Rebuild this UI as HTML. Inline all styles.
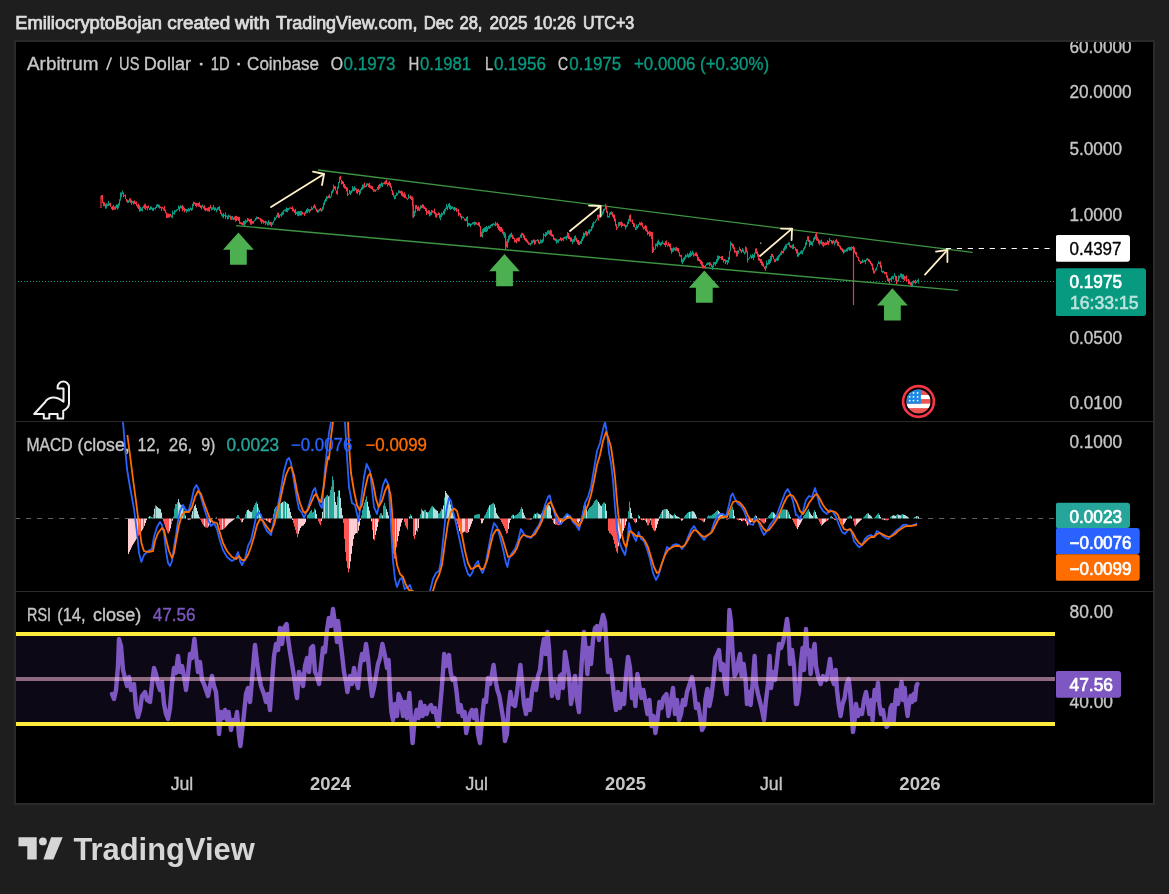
<!DOCTYPE html>
<html><head><meta charset="utf-8"><title>ARBUSD chart</title>
<style>
html,body{margin:0;padding:0;background:#1e1e1e;}
body{width:1169px;height:894px;overflow:hidden;font-family:"Liberation Sans",sans-serif;}
svg{display:block;position:absolute;left:0;top:0;will-change:transform}
text{font-family:"Liberation Sans",sans-serif}
</style></head><body>
<svg width="1169" height="894" viewBox="0 0 1169 894">
<defs>
<clipPath id="cpPrice"><rect x="16" y="42" width="1040" height="379"/></clipPath>
<clipPath id="cpMacd"><rect x="16" y="422" width="1040" height="169"/></clipPath>
<clipPath id="cpRsi"><rect x="16" y="592" width="1040" height="170"/></clipPath>
<clipPath id="cpChart"><rect x="16" y="42" width="1137" height="761"/></clipPath>
<clipPath id="cpFlag"><circle cx="918.5" cy="401.5" r="12"/></clipPath>
</defs>
<rect x="0" y="0" width="1169" height="894" fill="#1e1e1e"/>

<text x="15.2" y="28.8" font-size="17.5" fill="#dcdcdc" stroke="#dcdcdc" stroke-width="0.75" textLength="146.8" lengthAdjust="spacingAndGlyphs">EmiliocryptoBojan</text>
<text x="167.2" y="28.8" font-size="17.5" fill="#dcdcdc" stroke="#dcdcdc" stroke-width="0.75" textLength="63.2" lengthAdjust="spacingAndGlyphs">created</text>
<text x="235.0" y="28.8" font-size="17.5" fill="#dcdcdc" stroke="#dcdcdc" stroke-width="0.75" textLength="34.8" lengthAdjust="spacingAndGlyphs">with</text>
<text x="276.0" y="28.8" font-size="17.5" fill="#dcdcdc" stroke="#dcdcdc" stroke-width="0.75" textLength="141.4" lengthAdjust="spacingAndGlyphs">TradingView.com,</text>
<text x="423.7" y="28.8" font-size="17.5" fill="#dcdcdc" stroke="#dcdcdc" stroke-width="0.75" textLength="29.8" lengthAdjust="spacingAndGlyphs">Dec</text>
<text x="459.4" y="28.8" font-size="17.5" fill="#dcdcdc" stroke="#dcdcdc" stroke-width="0.75" textLength="23.1" lengthAdjust="spacingAndGlyphs">28,</text>
<text x="489.4" y="28.8" font-size="17.5" fill="#dcdcdc" stroke="#dcdcdc" stroke-width="0.75" textLength="38.1" lengthAdjust="spacingAndGlyphs">2025</text>
<text x="533.5" y="28.8" font-size="17.5" fill="#dcdcdc" stroke="#dcdcdc" stroke-width="0.75" textLength="42.4" lengthAdjust="spacingAndGlyphs">10:26</text>
<text x="582.9" y="28.8" font-size="17.5" fill="#dcdcdc" stroke="#dcdcdc" stroke-width="0.75" textLength="51.4" lengthAdjust="spacingAndGlyphs">UTC+3</text>
<rect x="14" y="40" width="1141" height="765" fill="#2a2a2a"/>
<rect x="16" y="42" width="1137" height="761" fill="#000"/>
<rect x="16" y="421" width="1137" height="1" fill="#2a2a2a"/>
<rect x="16" y="591" width="1137" height="1" fill="#2a2a2a"/>
<g clip-path="url(#cpPrice)">
<line x1="15" x2="1055" y1="281.5" y2="281.5" stroke="#089981" stroke-width="1" stroke-dasharray="1 2"/>
<line x1="318" y1="170" x2="972.6" y2="252.4" stroke="#3d9442" stroke-width="1.4"/>
<line x1="236" y1="225.6" x2="958" y2="290.4" stroke="#3d9442" stroke-width="1.4"/>
<g stroke-width="1" shape-rendering="auto"><line x1="101.5" x2="101.5" y1="195.0" y2="199.1" stroke="#089981"/><line x1="102.5" x2="102.5" y1="195.0" y2="203.2" stroke="#f23645"/><line x1="103.5" x2="103.5" y1="201.7" y2="206.3" stroke="#f23645"/><line x1="104.5" x2="104.5" y1="202.4" y2="206.1" stroke="#f23645"/><line x1="105.5" x2="105.5" y1="203.8" y2="208.6" stroke="#f23645"/><line x1="106.5" x2="106.5" y1="203.4" y2="208.6" stroke="#089981"/><line x1="107.5" x2="107.5" y1="203.6" y2="206.3" stroke="#089981"/><line x1="108.5" x2="108.5" y1="200.9" y2="206.0" stroke="#089981"/><line x1="109.5" x2="109.5" y1="203.3" y2="205.7" stroke="#f23645"/><line x1="110.5" x2="110.5" y1="202.8" y2="206.9" stroke="#f23645"/><line x1="111.5" x2="111.5" y1="206.9" y2="209.1" stroke="#f23645"/><line x1="112.5" x2="112.5" y1="206.1" y2="210.3" stroke="#f23645"/><line x1="113.5" x2="113.5" y1="204.9" y2="210.0" stroke="#089981"/><line x1="114.5" x2="114.5" y1="206.8" y2="209.5" stroke="#f23645"/><line x1="115.5" x2="115.5" y1="205.6" y2="209.8" stroke="#089981"/><line x1="116.5" x2="116.5" y1="204.5" y2="208.2" stroke="#089981"/><line x1="117.5" x2="117.5" y1="204.5" y2="209.6" stroke="#f23645"/><line x1="118.5" x2="118.5" y1="203.3" y2="208.4" stroke="#089981"/><line x1="119.5" x2="119.5" y1="199.2" y2="205.7" stroke="#089981"/><line x1="120.5" x2="120.5" y1="192.4" y2="200.7" stroke="#089981"/><line x1="121.5" x2="121.5" y1="192.4" y2="197.2" stroke="#089981"/><line x1="122.5" x2="122.5" y1="190.5" y2="194.1" stroke="#089981"/><line x1="123.5" x2="123.5" y1="192.4" y2="197.2" stroke="#f23645"/><line x1="124.5" x2="124.5" y1="194.8" y2="196.2" stroke="#f23645"/><line x1="125.5" x2="125.5" y1="194.7" y2="199.0" stroke="#f23645"/><line x1="126.5" x2="126.5" y1="199.0" y2="201.7" stroke="#f23645"/><line x1="127.5" x2="127.5" y1="199.7" y2="202.9" stroke="#f23645"/><line x1="128.5" x2="128.5" y1="200.3" y2="203.0" stroke="#089981"/><line x1="129.5" x2="129.5" y1="198.3" y2="201.9" stroke="#089981"/><line x1="130.5" x2="130.5" y1="198.3" y2="202.9" stroke="#f23645"/><line x1="131.5" x2="131.5" y1="200.1" y2="204.7" stroke="#f23645"/><line x1="132.5" x2="132.5" y1="200.9" y2="203.1" stroke="#089981"/><line x1="133.5" x2="133.5" y1="200.9" y2="204.5" stroke="#089981"/><line x1="134.5" x2="134.5" y1="200.4" y2="204.1" stroke="#f23645"/><line x1="135.5" x2="135.5" y1="201.5" y2="204.2" stroke="#089981"/><line x1="136.5" x2="136.5" y1="201.5" y2="206.1" stroke="#f23645"/><line x1="137.5" x2="137.5" y1="204.6" y2="207.8" stroke="#f23645"/><line x1="138.5" x2="138.5" y1="203.6" y2="209.2" stroke="#f23645"/><line x1="139.5" x2="139.5" y1="205.3" y2="211.7" stroke="#f23645"/><line x1="140.5" x2="140.5" y1="206.7" y2="211.3" stroke="#089981"/><line x1="141.5" x2="141.5" y1="208.3" y2="211.0" stroke="#089981"/><line x1="142.5" x2="142.5" y1="206.9" y2="211.5" stroke="#089981"/><line x1="143.5" x2="143.5" y1="205.6" y2="207.9" stroke="#089981"/><line x1="144.5" x2="144.5" y1="204.2" y2="208.8" stroke="#f23645"/><line x1="145.5" x2="145.5" y1="203.5" y2="210.0" stroke="#089981"/><line x1="146.5" x2="146.5" y1="205.9" y2="208.3" stroke="#f23645"/><line x1="147.5" x2="147.5" y1="205.9" y2="210.5" stroke="#089981"/><line x1="148.5" x2="148.5" y1="205.4" y2="208.1" stroke="#f23645"/><line x1="149.5" x2="149.5" y1="207.9" y2="210.1" stroke="#f23645"/><line x1="150.5" x2="150.5" y1="206.2" y2="209.9" stroke="#089981"/><line x1="151.5" x2="151.5" y1="206.7" y2="209.4" stroke="#f23645"/><line x1="152.5" x2="152.5" y1="207.7" y2="210.9" stroke="#089981"/><line x1="153.5" x2="153.5" y1="207.7" y2="210.9" stroke="#f23645"/><line x1="154.5" x2="154.5" y1="207.9" y2="209.1" stroke="#089981"/><line x1="155.5" x2="155.5" y1="207.0" y2="209.7" stroke="#089981"/><line x1="156.5" x2="156.5" y1="204.6" y2="208.0" stroke="#089981"/><line x1="157.5" x2="157.5" y1="204.1" y2="206.8" stroke="#089981"/><line x1="158.5" x2="158.5" y1="204.4" y2="207.6" stroke="#089981"/><line x1="159.5" x2="159.5" y1="204.9" y2="208.5" stroke="#f23645"/><line x1="160.5" x2="160.5" y1="206.5" y2="208.2" stroke="#f23645"/><line x1="161.5" x2="161.5" y1="206.9" y2="211.0" stroke="#089981"/><line x1="162.5" x2="162.5" y1="206.9" y2="208.6" stroke="#f23645"/><line x1="163.5" x2="163.5" y1="207.7" y2="210.4" stroke="#089981"/><line x1="164.5" x2="164.5" y1="205.8" y2="211.2" stroke="#f23645"/><line x1="165.5" x2="165.5" y1="209.7" y2="213.3" stroke="#f23645"/><line x1="166.5" x2="166.5" y1="212.3" y2="218.1" stroke="#f23645"/><line x1="167.5" x2="167.5" y1="213.4" y2="218.1" stroke="#089981"/><line x1="168.5" x2="168.5" y1="213.4" y2="217.6" stroke="#f23645"/><line x1="169.5" x2="169.5" y1="213.9" y2="217.6" stroke="#089981"/><line x1="170.5" x2="170.5" y1="213.9" y2="216.6" stroke="#f23645"/><line x1="171.5" x2="171.5" y1="215.3" y2="217.5" stroke="#f23645"/><line x1="172.5" x2="172.5" y1="210.5" y2="218.3" stroke="#089981"/><line x1="173.5" x2="173.5" y1="212.4" y2="214.1" stroke="#089981"/><line x1="174.5" x2="174.5" y1="210.1" y2="214.7" stroke="#089981"/><line x1="175.5" x2="175.5" y1="210.3" y2="212.5" stroke="#089981"/><line x1="176.5" x2="176.5" y1="209.3" y2="211.5" stroke="#089981"/><line x1="177.5" x2="177.5" y1="208.9" y2="210.3" stroke="#089981"/><line x1="178.5" x2="178.5" y1="205.5" y2="209.6" stroke="#089981"/><line x1="179.5" x2="179.5" y1="206.4" y2="211.5" stroke="#f23645"/><line x1="180.5" x2="180.5" y1="205.3" y2="208.3" stroke="#089981"/><line x1="181.5" x2="181.5" y1="205.8" y2="208.5" stroke="#f23645"/><line x1="182.5" x2="182.5" y1="205.1" y2="211.4" stroke="#f23645"/><line x1="183.5" x2="183.5" y1="206.4" y2="210.0" stroke="#089981"/><line x1="184.5" x2="184.5" y1="207.8" y2="212.4" stroke="#f23645"/><line x1="185.5" x2="185.5" y1="208.9" y2="211.1" stroke="#f23645"/><line x1="186.5" x2="186.5" y1="209.1" y2="212.7" stroke="#089981"/><line x1="187.5" x2="187.5" y1="209.1" y2="211.4" stroke="#f23645"/><line x1="188.5" x2="188.5" y1="207.9" y2="211.4" stroke="#089981"/><line x1="189.5" x2="189.5" y1="208.9" y2="211.6" stroke="#f23645"/><line x1="190.5" x2="190.5" y1="207.3" y2="210.0" stroke="#089981"/><line x1="191.5" x2="191.5" y1="208.1" y2="210.8" stroke="#089981"/><line x1="192.5" x2="192.5" y1="203.7" y2="210.1" stroke="#089981"/><line x1="193.5" x2="193.5" y1="201.6" y2="206.1" stroke="#089981"/><line x1="194.5" x2="194.5" y1="202.1" y2="204.5" stroke="#f23645"/><line x1="195.5" x2="195.5" y1="203.0" y2="206.0" stroke="#089981"/><line x1="196.5" x2="196.5" y1="203.0" y2="207.3" stroke="#f23645"/><line x1="197.5" x2="197.5" y1="203.0" y2="205.7" stroke="#089981"/><line x1="198.5" x2="198.5" y1="203.0" y2="206.7" stroke="#f23645"/><line x1="199.5" x2="199.5" y1="201.9" y2="206.8" stroke="#f23645"/><line x1="200.5" x2="200.5" y1="205.3" y2="208.0" stroke="#f23645"/><line x1="201.5" x2="201.5" y1="205.4" y2="209.5" stroke="#f23645"/><line x1="202.5" x2="202.5" y1="204.6" y2="207.3" stroke="#089981"/><line x1="203.5" x2="203.5" y1="206.1" y2="208.6" stroke="#f23645"/><line x1="204.5" x2="204.5" y1="205.2" y2="210.3" stroke="#f23645"/><line x1="205.5" x2="205.5" y1="207.6" y2="211.2" stroke="#f23645"/><line x1="206.5" x2="206.5" y1="208.2" y2="210.4" stroke="#f23645"/><line x1="207.5" x2="207.5" y1="207.7" y2="211.4" stroke="#089981"/><line x1="208.5" x2="208.5" y1="207.2" y2="211.4" stroke="#f23645"/><line x1="209.5" x2="209.5" y1="206.7" y2="211.7" stroke="#089981"/><line x1="210.5" x2="210.5" y1="204.8" y2="208.4" stroke="#f23645"/><line x1="211.5" x2="211.5" y1="207.2" y2="210.4" stroke="#f23645"/><line x1="212.5" x2="212.5" y1="207.3" y2="209.8" stroke="#089981"/><line x1="213.5" x2="213.5" y1="204.9" y2="209.5" stroke="#f23645"/><line x1="214.5" x2="214.5" y1="207.4" y2="211.0" stroke="#089981"/><line x1="215.5" x2="215.5" y1="207.4" y2="210.0" stroke="#f23645"/><line x1="216.5" x2="216.5" y1="208.7" y2="212.3" stroke="#089981"/><line x1="217.5" x2="217.5" y1="207.2" y2="210.4" stroke="#f23645"/><line x1="218.5" x2="218.5" y1="206.9" y2="209.6" stroke="#089981"/><line x1="219.5" x2="219.5" y1="206.0" y2="211.1" stroke="#f23645"/><line x1="220.5" x2="220.5" y1="209.6" y2="213.9" stroke="#f23645"/><line x1="221.5" x2="221.5" y1="212.4" y2="215.7" stroke="#f23645"/><line x1="222.5" x2="222.5" y1="214.1" y2="217.2" stroke="#089981"/><line x1="223.5" x2="223.5" y1="213.1" y2="218.3" stroke="#f23645"/><line x1="224.5" x2="224.5" y1="214.9" y2="216.1" stroke="#089981"/><line x1="225.5" x2="225.5" y1="212.5" y2="218.9" stroke="#f23645"/><line x1="226.5" x2="226.5" y1="215.3" y2="217.0" stroke="#089981"/><line x1="227.5" x2="227.5" y1="215.8" y2="219.4" stroke="#f23645"/><line x1="228.5" x2="228.5" y1="214.4" y2="219.0" stroke="#089981"/><line x1="229.5" x2="229.5" y1="215.4" y2="217.1" stroke="#f23645"/><line x1="230.5" x2="230.5" y1="215.5" y2="219.7" stroke="#f23645"/><line x1="231.5" x2="231.5" y1="216.2" y2="219.9" stroke="#089981"/><line x1="232.5" x2="232.5" y1="215.9" y2="219.6" stroke="#089981"/><line x1="233.5" x2="233.5" y1="217.4" y2="220.1" stroke="#f23645"/><line x1="234.5" x2="234.5" y1="216.6" y2="219.8" stroke="#f23645"/><line x1="235.5" x2="235.5" y1="215.8" y2="221.8" stroke="#f23645"/><line x1="236.5" x2="236.5" y1="215.9" y2="221.0" stroke="#f23645"/><line x1="237.5" x2="237.5" y1="216.7" y2="219.9" stroke="#089981"/><line x1="238.5" x2="238.5" y1="216.7" y2="221.0" stroke="#f23645"/><line x1="239.5" x2="239.5" y1="217.1" y2="223.9" stroke="#f23645"/><line x1="240.5" x2="240.5" y1="221.9" y2="224.1" stroke="#f23645"/><line x1="241.5" x2="241.5" y1="222.4" y2="224.6" stroke="#f23645"/><line x1="242.5" x2="242.5" y1="222.5" y2="225.2" stroke="#f23645"/><line x1="243.5" x2="243.5" y1="221.0" y2="225.6" stroke="#089981"/><line x1="244.5" x2="244.5" y1="220.9" y2="226.0" stroke="#089981"/><line x1="245.5" x2="245.5" y1="219.7" y2="224.3" stroke="#089981"/><line x1="246.5" x2="246.5" y1="220.5" y2="222.7" stroke="#089981"/><line x1="247.5" x2="247.5" y1="218.0" y2="222.0" stroke="#089981"/><line x1="248.5" x2="248.5" y1="218.5" y2="221.2" stroke="#f23645"/><line x1="249.5" x2="249.5" y1="219.2" y2="222.4" stroke="#f23645"/><line x1="250.5" x2="250.5" y1="218.9" y2="224.7" stroke="#f23645"/><line x1="251.5" x2="251.5" y1="218.6" y2="224.7" stroke="#089981"/><line x1="252.5" x2="252.5" y1="221.0" y2="223.7" stroke="#f23645"/><line x1="253.5" x2="253.5" y1="221.0" y2="223.7" stroke="#f23645"/><line x1="254.5" x2="254.5" y1="219.7" y2="221.4" stroke="#089981"/><line x1="255.5" x2="255.5" y1="218.0" y2="220.7" stroke="#089981"/><line x1="256.5" x2="256.5" y1="216.5" y2="219.5" stroke="#089981"/><line x1="257.5" x2="257.5" y1="217.0" y2="219.2" stroke="#089981"/><line x1="258.5" x2="258.5" y1="217.0" y2="219.2" stroke="#f23645"/><line x1="259.5" x2="259.5" y1="218.1" y2="219.3" stroke="#f23645"/><line x1="260.5" x2="260.5" y1="218.2" y2="221.4" stroke="#f23645"/><line x1="261.5" x2="261.5" y1="218.7" y2="223.8" stroke="#f23645"/><line x1="262.5" x2="262.5" y1="219.4" y2="222.3" stroke="#f23645"/><line x1="263.5" x2="263.5" y1="220.2" y2="223.9" stroke="#089981"/><line x1="264.5" x2="264.5" y1="221.2" y2="222.9" stroke="#f23645"/><line x1="265.5" x2="265.5" y1="220.8" y2="225.0" stroke="#f23645"/><line x1="266.5" x2="266.5" y1="221.3" y2="223.5" stroke="#089981"/><line x1="267.5" x2="267.5" y1="222.3" y2="225.7" stroke="#f23645"/><line x1="268.5" x2="268.5" y1="220.2" y2="225.2" stroke="#089981"/><line x1="269.5" x2="269.5" y1="221.6" y2="224.8" stroke="#f23645"/><line x1="270.5" x2="270.5" y1="221.8" y2="225.4" stroke="#f23645"/><line x1="271.5" x2="271.5" y1="222.1" y2="226.8" stroke="#089981"/><line x1="272.5" x2="272.5" y1="222.4" y2="225.1" stroke="#089981"/><line x1="273.5" x2="273.5" y1="220.7" y2="223.4" stroke="#089981"/><line x1="274.5" x2="274.5" y1="217.0" y2="221.2" stroke="#089981"/><line x1="275.5" x2="275.5" y1="217.8" y2="220.0" stroke="#089981"/><line x1="276.5" x2="276.5" y1="215.2" y2="218.3" stroke="#089981"/><line x1="277.5" x2="277.5" y1="212.7" y2="217.2" stroke="#089981"/><line x1="278.5" x2="278.5" y1="212.7" y2="217.9" stroke="#f23645"/><line x1="279.5" x2="279.5" y1="214.6" y2="217.9" stroke="#089981"/><line x1="280.5" x2="280.5" y1="214.0" y2="215.7" stroke="#089981"/><line x1="281.5" x2="281.5" y1="212.6" y2="216.9" stroke="#089981"/><line x1="282.5" x2="282.5" y1="211.6" y2="215.3" stroke="#089981"/><line x1="283.5" x2="283.5" y1="210.1" y2="214.6" stroke="#089981"/><line x1="284.5" x2="284.5" y1="209.5" y2="211.2" stroke="#089981"/><line x1="285.5" x2="285.5" y1="209.0" y2="211.7" stroke="#089981"/><line x1="286.5" x2="286.5" y1="207.4" y2="212.0" stroke="#089981"/><line x1="287.5" x2="287.5" y1="208.0" y2="212.2" stroke="#089981"/><line x1="288.5" x2="288.5" y1="208.1" y2="210.5" stroke="#089981"/><line x1="289.5" x2="289.5" y1="207.4" y2="209.1" stroke="#089981"/><line x1="290.5" x2="290.5" y1="207.4" y2="208.6" stroke="#f23645"/><line x1="291.5" x2="291.5" y1="207.5" y2="209.3" stroke="#f23645"/><line x1="292.5" x2="292.5" y1="206.4" y2="211.5" stroke="#f23645"/><line x1="293.5" x2="293.5" y1="208.3" y2="211.5" stroke="#f23645"/><line x1="294.5" x2="294.5" y1="209.9" y2="213.1" stroke="#f23645"/><line x1="295.5" x2="295.5" y1="208.8" y2="215.1" stroke="#f23645"/><line x1="296.5" x2="296.5" y1="211.8" y2="214.0" stroke="#089981"/><line x1="297.5" x2="297.5" y1="211.3" y2="215.8" stroke="#f23645"/><line x1="298.5" x2="298.5" y1="211.2" y2="216.3" stroke="#089981"/><line x1="299.5" x2="299.5" y1="211.2" y2="215.5" stroke="#f23645"/><line x1="300.5" x2="300.5" y1="211.0" y2="215.6" stroke="#089981"/><line x1="301.5" x2="301.5" y1="210.9" y2="215.5" stroke="#089981"/><line x1="302.5" x2="302.5" y1="211.8" y2="214.5" stroke="#f23645"/><line x1="303.5" x2="303.5" y1="213.2" y2="214.4" stroke="#089981"/><line x1="304.5" x2="304.5" y1="212.7" y2="215.9" stroke="#f23645"/><line x1="305.5" x2="305.5" y1="210.8" y2="214.1" stroke="#089981"/><line x1="306.5" x2="306.5" y1="209.2" y2="213.3" stroke="#089981"/><line x1="307.5" x2="307.5" y1="208.1" y2="213.2" stroke="#089981"/><line x1="308.5" x2="308.5" y1="208.9" y2="211.6" stroke="#089981"/><line x1="309.5" x2="309.5" y1="209.2" y2="212.8" stroke="#089981"/><line x1="310.5" x2="310.5" y1="209.2" y2="211.4" stroke="#f23645"/><line x1="311.5" x2="311.5" y1="206.4" y2="210.2" stroke="#089981"/><line x1="312.5" x2="312.5" y1="207.7" y2="209.9" stroke="#089981"/><line x1="313.5" x2="313.5" y1="205.6" y2="208.3" stroke="#089981"/><line x1="314.5" x2="314.5" y1="204.2" y2="207.8" stroke="#f23645"/><line x1="315.5" x2="315.5" y1="205.8" y2="209.5" stroke="#f23645"/><line x1="316.5" x2="316.5" y1="208.5" y2="211.7" stroke="#f23645"/><line x1="317.5" x2="317.5" y1="209.7" y2="212.9" stroke="#f23645"/><line x1="318.5" x2="318.5" y1="209.7" y2="212.4" stroke="#089981"/><line x1="319.5" x2="319.5" y1="208.9" y2="211.1" stroke="#089981"/><line x1="320.5" x2="320.5" y1="207.9" y2="210.6" stroke="#f23645"/><line x1="321.5" x2="321.5" y1="208.7" y2="211.9" stroke="#f23645"/><line x1="322.5" x2="322.5" y1="206.7" y2="210.7" stroke="#089981"/><line x1="323.5" x2="323.5" y1="202.6" y2="209.2" stroke="#089981"/><line x1="324.5" x2="324.5" y1="200.3" y2="205.1" stroke="#089981"/><line x1="325.5" x2="325.5" y1="198.4" y2="202.1" stroke="#089981"/><line x1="326.5" x2="326.5" y1="196.0" y2="201.1" stroke="#089981"/><line x1="327.5" x2="327.5" y1="196.4" y2="198.9" stroke="#089981"/><line x1="328.5" x2="328.5" y1="195.4" y2="198.1" stroke="#f23645"/><line x1="329.5" x2="329.5" y1="194.1" y2="198.3" stroke="#f23645"/><line x1="330.5" x2="330.5" y1="196.3" y2="198.3" stroke="#089981"/><line x1="331.5" x2="331.5" y1="191.1" y2="196.8" stroke="#089981"/><line x1="332.5" x2="332.5" y1="189.5" y2="193.5" stroke="#089981"/><line x1="333.5" x2="333.5" y1="184.7" y2="191.5" stroke="#089981"/><line x1="334.5" x2="334.5" y1="186.2" y2="189.1" stroke="#f23645"/><line x1="335.5" x2="335.5" y1="186.1" y2="190.6" stroke="#f23645"/><line x1="336.5" x2="336.5" y1="190.6" y2="193.9" stroke="#f23645"/><line x1="337.5" x2="337.5" y1="186.6" y2="194.9" stroke="#089981"/><line x1="338.5" x2="338.5" y1="182.1" y2="188.6" stroke="#089981"/><line x1="339.5" x2="339.5" y1="176.6" y2="183.1" stroke="#089981"/><line x1="340.5" x2="340.5" y1="175.7" y2="179.9" stroke="#f23645"/><line x1="341.5" x2="341.5" y1="179.9" y2="184.4" stroke="#f23645"/><line x1="342.5" x2="342.5" y1="181.0" y2="184.2" stroke="#f23645"/><line x1="343.5" x2="343.5" y1="181.5" y2="187.4" stroke="#f23645"/><line x1="344.5" x2="344.5" y1="184.0" y2="188.6" stroke="#f23645"/><line x1="345.5" x2="345.5" y1="185.6" y2="188.8" stroke="#f23645"/><line x1="346.5" x2="346.5" y1="187.0" y2="191.4" stroke="#f23645"/><line x1="347.5" x2="347.5" y1="187.5" y2="196.1" stroke="#f23645"/><line x1="348.5" x2="348.5" y1="193.7" y2="194.9" stroke="#f23645"/><line x1="349.5" x2="349.5" y1="189.8" y2="193.9" stroke="#089981"/><line x1="350.5" x2="350.5" y1="191.0" y2="195.1" stroke="#089981"/><line x1="351.5" x2="351.5" y1="190.1" y2="193.3" stroke="#089981"/><line x1="352.5" x2="352.5" y1="186.1" y2="191.6" stroke="#089981"/><line x1="353.5" x2="353.5" y1="187.6" y2="191.0" stroke="#f23645"/><line x1="354.5" x2="354.5" y1="186.2" y2="191.3" stroke="#089981"/><line x1="355.5" x2="355.5" y1="187.6" y2="190.3" stroke="#f23645"/><line x1="356.5" x2="356.5" y1="188.6" y2="193.2" stroke="#f23645"/><line x1="357.5" x2="357.5" y1="189.4" y2="194.0" stroke="#089981"/><line x1="358.5" x2="358.5" y1="188.9" y2="192.2" stroke="#f23645"/><line x1="359.5" x2="359.5" y1="190.2" y2="195.3" stroke="#f23645"/><line x1="360.5" x2="360.5" y1="189.2" y2="193.7" stroke="#089981"/><line x1="361.5" x2="361.5" y1="187.2" y2="190.4" stroke="#089981"/><line x1="362.5" x2="362.5" y1="184.4" y2="189.7" stroke="#089981"/><line x1="363.5" x2="363.5" y1="184.5" y2="188.6" stroke="#089981"/><line x1="364.5" x2="364.5" y1="182.6" y2="187.7" stroke="#f23645"/><line x1="365.5" x2="365.5" y1="185.5" y2="187.2" stroke="#f23645"/><line x1="366.5" x2="366.5" y1="183.3" y2="187.0" stroke="#089981"/><line x1="367.5" x2="367.5" y1="183.3" y2="185.5" stroke="#f23645"/><line x1="368.5" x2="368.5" y1="183.6" y2="187.2" stroke="#f23645"/><line x1="369.5" x2="369.5" y1="182.9" y2="187.8" stroke="#f23645"/><line x1="370.5" x2="370.5" y1="185.3" y2="188.5" stroke="#f23645"/><line x1="371.5" x2="371.5" y1="185.7" y2="188.9" stroke="#089981"/><line x1="372.5" x2="372.5" y1="186.2" y2="190.1" stroke="#f23645"/><line x1="373.5" x2="373.5" y1="189.1" y2="191.8" stroke="#f23645"/><line x1="374.5" x2="374.5" y1="189.4" y2="191.6" stroke="#f23645"/><line x1="375.5" x2="375.5" y1="189.6" y2="191.8" stroke="#f23645"/><line x1="376.5" x2="376.5" y1="189.2" y2="190.4" stroke="#089981"/><line x1="377.5" x2="377.5" y1="186.9" y2="189.7" stroke="#089981"/><line x1="378.5" x2="378.5" y1="185.0" y2="190.1" stroke="#f23645"/><line x1="379.5" x2="379.5" y1="183.9" y2="188.8" stroke="#089981"/><line x1="380.5" x2="380.5" y1="183.7" y2="187.8" stroke="#089981"/><line x1="381.5" x2="381.5" y1="182.3" y2="186.1" stroke="#089981"/><line x1="382.5" x2="382.5" y1="183.0" y2="187.1" stroke="#089981"/><line x1="383.5" x2="383.5" y1="182.6" y2="184.3" stroke="#089981"/><line x1="384.5" x2="384.5" y1="181.6" y2="184.3" stroke="#f23645"/><line x1="385.5" x2="385.5" y1="180.6" y2="184.8" stroke="#089981"/><line x1="386.5" x2="386.5" y1="179.7" y2="184.0" stroke="#f23645"/><line x1="387.5" x2="387.5" y1="182.8" y2="186.5" stroke="#089981"/><line x1="388.5" x2="388.5" y1="182.3" y2="185.0" stroke="#f23645"/><line x1="389.5" x2="389.5" y1="181.1" y2="186.2" stroke="#089981"/><line x1="390.5" x2="390.5" y1="183.0" y2="187.7" stroke="#f23645"/><line x1="391.5" x2="391.5" y1="186.2" y2="191.1" stroke="#f23645"/><line x1="392.5" x2="392.5" y1="190.1" y2="195.0" stroke="#f23645"/><line x1="393.5" x2="393.5" y1="192.5" y2="196.7" stroke="#f23645"/><line x1="394.5" x2="394.5" y1="195.6" y2="199.3" stroke="#089981"/><line x1="395.5" x2="395.5" y1="195.0" y2="199.0" stroke="#089981"/><line x1="396.5" x2="396.5" y1="192.5" y2="196.0" stroke="#089981"/><line x1="397.5" x2="397.5" y1="193.0" y2="195.2" stroke="#f23645"/><line x1="398.5" x2="398.5" y1="190.3" y2="193.4" stroke="#089981"/><line x1="399.5" x2="399.5" y1="190.5" y2="193.2" stroke="#089981"/><line x1="400.5" x2="400.5" y1="191.0" y2="193.5" stroke="#f23645"/><line x1="401.5" x2="401.5" y1="190.6" y2="195.7" stroke="#f23645"/><line x1="402.5" x2="402.5" y1="191.4" y2="196.5" stroke="#f23645"/><line x1="403.5" x2="403.5" y1="193.2" y2="197.3" stroke="#089981"/><line x1="404.5" x2="404.5" y1="192.2" y2="198.2" stroke="#f23645"/><line x1="405.5" x2="405.5" y1="194.3" y2="197.9" stroke="#f23645"/><line x1="406.5" x2="406.5" y1="197.3" y2="199.0" stroke="#f23645"/><line x1="407.5" x2="407.5" y1="198.5" y2="200.2" stroke="#f23645"/><line x1="408.5" x2="408.5" y1="194.1" y2="198.9" stroke="#089981"/><line x1="409.5" x2="409.5" y1="196.3" y2="198.0" stroke="#089981"/><line x1="410.5" x2="410.5" y1="195.3" y2="199.0" stroke="#f23645"/><line x1="411.5" x2="411.5" y1="196.4" y2="200.1" stroke="#f23645"/><line x1="412.5" x2="412.5" y1="196.5" y2="206.2" stroke="#f23645"/><line x1="413.5" x2="413.5" y1="204.7" y2="217.6" stroke="#f23645"/><line x1="414.5" x2="414.5" y1="210.9" y2="216.6" stroke="#089981"/><line x1="415.5" x2="415.5" y1="205.0" y2="212.9" stroke="#089981"/><line x1="416.5" x2="416.5" y1="205.0" y2="208.9" stroke="#f23645"/><line x1="417.5" x2="417.5" y1="206.9" y2="211.1" stroke="#f23645"/><line x1="418.5" x2="418.5" y1="206.1" y2="210.6" stroke="#f23645"/><line x1="419.5" x2="419.5" y1="207.4" y2="211.1" stroke="#089981"/><line x1="420.5" x2="420.5" y1="205.3" y2="209.4" stroke="#089981"/><line x1="421.5" x2="421.5" y1="205.3" y2="208.0" stroke="#f23645"/><line x1="422.5" x2="422.5" y1="204.3" y2="207.9" stroke="#f23645"/><line x1="423.5" x2="423.5" y1="204.5" y2="208.6" stroke="#089981"/><line x1="424.5" x2="424.5" y1="206.4" y2="209.1" stroke="#f23645"/><line x1="425.5" x2="425.5" y1="207.6" y2="211.3" stroke="#f23645"/><line x1="426.5" x2="426.5" y1="208.2" y2="215.0" stroke="#f23645"/><line x1="427.5" x2="427.5" y1="211.2" y2="213.4" stroke="#089981"/><line x1="428.5" x2="428.5" y1="210.2" y2="213.9" stroke="#f23645"/><line x1="429.5" x2="429.5" y1="210.5" y2="216.5" stroke="#f23645"/><line x1="430.5" x2="430.5" y1="211.9" y2="215.6" stroke="#089981"/><line x1="431.5" x2="431.5" y1="210.0" y2="214.9" stroke="#089981"/><line x1="432.5" x2="432.5" y1="210.5" y2="212.7" stroke="#f23645"/><line x1="433.5" x2="433.5" y1="211.0" y2="212.7" stroke="#089981"/><line x1="434.5" x2="434.5" y1="208.6" y2="214.1" stroke="#f23645"/><line x1="435.5" x2="435.5" y1="212.1" y2="217.2" stroke="#f23645"/><line x1="436.5" x2="436.5" y1="213.3" y2="217.9" stroke="#f23645"/><line x1="437.5" x2="437.5" y1="213.8" y2="215.5" stroke="#089981"/><line x1="438.5" x2="438.5" y1="212.3" y2="215.0" stroke="#f23645"/><line x1="439.5" x2="439.5" y1="212.8" y2="218.3" stroke="#f23645"/><line x1="440.5" x2="440.5" y1="214.2" y2="220.2" stroke="#089981"/><line x1="441.5" x2="441.5" y1="212.5" y2="217.1" stroke="#089981"/><line x1="442.5" x2="442.5" y1="213.1" y2="215.4" stroke="#089981"/><line x1="443.5" x2="443.5" y1="210.7" y2="214.3" stroke="#f23645"/><line x1="444.5" x2="444.5" y1="209.1" y2="214.6" stroke="#089981"/><line x1="445.5" x2="445.5" y1="207.6" y2="211.6" stroke="#089981"/><line x1="446.5" x2="446.5" y1="204.1" y2="209.1" stroke="#089981"/><line x1="447.5" x2="447.5" y1="206.0" y2="210.1" stroke="#f23645"/><line x1="448.5" x2="448.5" y1="203.8" y2="207.3" stroke="#089981"/><line x1="449.5" x2="449.5" y1="202.9" y2="209.1" stroke="#f23645"/><line x1="450.5" x2="450.5" y1="205.3" y2="209.9" stroke="#089981"/><line x1="451.5" x2="451.5" y1="206.3" y2="209.2" stroke="#f23645"/><line x1="452.5" x2="452.5" y1="206.4" y2="208.6" stroke="#089981"/><line x1="453.5" x2="453.5" y1="207.4" y2="209.9" stroke="#f23645"/><line x1="454.5" x2="454.5" y1="207.0" y2="211.2" stroke="#089981"/><line x1="455.5" x2="455.5" y1="207.5" y2="210.2" stroke="#f23645"/><line x1="456.5" x2="456.5" y1="207.8" y2="211.8" stroke="#f23645"/><line x1="457.5" x2="457.5" y1="209.5" y2="211.2" stroke="#089981"/><line x1="458.5" x2="458.5" y1="209.0" y2="216.2" stroke="#f23645"/><line x1="459.5" x2="459.5" y1="212.8" y2="215.0" stroke="#f23645"/><line x1="460.5" x2="460.5" y1="213.5" y2="217.3" stroke="#f23645"/><line x1="461.5" x2="461.5" y1="215.8" y2="219.6" stroke="#f23645"/><line x1="462.5" x2="462.5" y1="216.4" y2="218.1" stroke="#089981"/><line x1="463.5" x2="463.5" y1="216.9" y2="218.4" stroke="#f23645"/><line x1="464.5" x2="464.5" y1="218.4" y2="220.6" stroke="#f23645"/><line x1="465.5" x2="465.5" y1="218.6" y2="221.3" stroke="#f23645"/><line x1="466.5" x2="466.5" y1="217.0" y2="221.2" stroke="#089981"/><line x1="467.5" x2="467.5" y1="216.1" y2="226.9" stroke="#f23645"/><line x1="468.5" x2="468.5" y1="223.0" y2="226.2" stroke="#089981"/><line x1="469.5" x2="469.5" y1="223.0" y2="225.5" stroke="#f23645"/><line x1="470.5" x2="470.5" y1="223.9" y2="227.1" stroke="#089981"/><line x1="471.5" x2="471.5" y1="223.4" y2="225.1" stroke="#089981"/><line x1="472.5" x2="472.5" y1="222.3" y2="224.5" stroke="#089981"/><line x1="473.5" x2="473.5" y1="222.1" y2="224.3" stroke="#089981"/><line x1="474.5" x2="474.5" y1="221.5" y2="225.6" stroke="#089981"/><line x1="475.5" x2="475.5" y1="222.0" y2="224.7" stroke="#f23645"/><line x1="476.5" x2="476.5" y1="222.4" y2="224.6" stroke="#f23645"/><line x1="477.5" x2="477.5" y1="223.5" y2="225.2" stroke="#f23645"/><line x1="478.5" x2="478.5" y1="222.1" y2="225.8" stroke="#f23645"/><line x1="479.5" x2="479.5" y1="222.4" y2="227.0" stroke="#f23645"/><line x1="480.5" x2="480.5" y1="227.0" y2="234.2" stroke="#f23645"/><line x1="481.5" x2="481.5" y1="231.7" y2="236.6" stroke="#f23645"/><line x1="482.5" x2="482.5" y1="229.1" y2="237.6" stroke="#089981"/><line x1="483.5" x2="483.5" y1="228.1" y2="233.0" stroke="#089981"/><line x1="484.5" x2="484.5" y1="227.4" y2="232.0" stroke="#089981"/><line x1="485.5" x2="485.5" y1="226.9" y2="232.0" stroke="#f23645"/><line x1="486.5" x2="486.5" y1="225.9" y2="231.9" stroke="#089981"/><line x1="487.5" x2="487.5" y1="227.1" y2="231.2" stroke="#089981"/><line x1="488.5" x2="488.5" y1="225.7" y2="228.9" stroke="#089981"/><line x1="489.5" x2="489.5" y1="226.1" y2="228.8" stroke="#089981"/><line x1="490.5" x2="490.5" y1="224.8" y2="228.1" stroke="#089981"/><line x1="491.5" x2="491.5" y1="224.0" y2="226.2" stroke="#089981"/><line x1="492.5" x2="492.5" y1="223.7" y2="226.4" stroke="#089981"/><line x1="493.5" x2="493.5" y1="223.2" y2="224.9" stroke="#f23645"/><line x1="494.5" x2="494.5" y1="223.6" y2="225.3" stroke="#089981"/><line x1="495.5" x2="495.5" y1="221.7" y2="226.3" stroke="#f23645"/><line x1="496.5" x2="496.5" y1="223.2" y2="225.4" stroke="#f23645"/><line x1="497.5" x2="497.5" y1="222.7" y2="228.0" stroke="#f23645"/><line x1="498.5" x2="498.5" y1="224.1" y2="230.1" stroke="#f23645"/><line x1="499.5" x2="499.5" y1="226.1" y2="231.2" stroke="#f23645"/><line x1="500.5" x2="500.5" y1="227.0" y2="231.9" stroke="#f23645"/><line x1="501.5" x2="501.5" y1="227.1" y2="231.7" stroke="#f23645"/><line x1="502.5" x2="502.5" y1="228.7" y2="233.5" stroke="#f23645"/><line x1="503.5" x2="503.5" y1="231.5" y2="235.4" stroke="#f23645"/><line x1="504.5" x2="504.5" y1="231.9" y2="237.9" stroke="#089981"/><line x1="505.5" x2="505.5" y1="233.3" y2="243.0" stroke="#f23645"/><line x1="506.5" x2="506.5" y1="241.5" y2="247.0" stroke="#f23645"/><line x1="507.5" x2="507.5" y1="239.2" y2="247.9" stroke="#089981"/><line x1="508.5" x2="508.5" y1="236.1" y2="242.6" stroke="#089981"/><line x1="509.5" x2="509.5" y1="234.6" y2="239.7" stroke="#089981"/><line x1="510.5" x2="510.5" y1="233.5" y2="237.7" stroke="#089981"/><line x1="511.5" x2="511.5" y1="232.6" y2="237.2" stroke="#f23645"/><line x1="512.5" x2="512.5" y1="234.6" y2="238.8" stroke="#f23645"/><line x1="513.5" x2="513.5" y1="236.4" y2="239.0" stroke="#f23645"/><line x1="514.5" x2="514.5" y1="238.0" y2="242.4" stroke="#f23645"/><line x1="515.5" x2="515.5" y1="239.7" y2="242.4" stroke="#089981"/><line x1="516.5" x2="516.5" y1="238.2" y2="243.3" stroke="#f23645"/><line x1="517.5" x2="517.5" y1="237.9" y2="241.1" stroke="#089981"/><line x1="518.5" x2="518.5" y1="237.4" y2="241.6" stroke="#f23645"/><line x1="519.5" x2="519.5" y1="237.1" y2="241.4" stroke="#089981"/><line x1="520.5" x2="520.5" y1="234.7" y2="237.6" stroke="#089981"/><line x1="521.5" x2="521.5" y1="232.9" y2="238.1" stroke="#089981"/><line x1="522.5" x2="522.5" y1="232.9" y2="235.4" stroke="#f23645"/><line x1="523.5" x2="523.5" y1="233.9" y2="238.1" stroke="#f23645"/><line x1="524.5" x2="524.5" y1="235.2" y2="240.0" stroke="#f23645"/><line x1="525.5" x2="525.5" y1="238.0" y2="241.4" stroke="#f23645"/><line x1="526.5" x2="526.5" y1="238.5" y2="242.1" stroke="#f23645"/><line x1="527.5" x2="527.5" y1="240.1" y2="243.3" stroke="#f23645"/><line x1="528.5" x2="528.5" y1="241.6" y2="244.8" stroke="#f23645"/><line x1="529.5" x2="529.5" y1="243.2" y2="244.9" stroke="#089981"/><line x1="530.5" x2="530.5" y1="242.9" y2="245.6" stroke="#089981"/><line x1="531.5" x2="531.5" y1="240.3" y2="244.4" stroke="#089981"/><line x1="532.5" x2="532.5" y1="240.4" y2="243.6" stroke="#089981"/><line x1="533.5" x2="533.5" y1="239.4" y2="242.6" stroke="#f23645"/><line x1="534.5" x2="534.5" y1="239.7" y2="244.8" stroke="#f23645"/><line x1="535.5" x2="535.5" y1="240.2" y2="243.9" stroke="#089981"/><line x1="536.5" x2="536.5" y1="240.1" y2="241.3" stroke="#089981"/><line x1="537.5" x2="537.5" y1="239.1" y2="241.3" stroke="#f23645"/><line x1="538.5" x2="538.5" y1="239.7" y2="243.4" stroke="#f23645"/><line x1="539.5" x2="539.5" y1="241.8" y2="244.0" stroke="#f23645"/><line x1="540.5" x2="540.5" y1="239.3" y2="243.4" stroke="#089981"/><line x1="541.5" x2="541.5" y1="240.1" y2="243.3" stroke="#089981"/><line x1="542.5" x2="542.5" y1="239.2" y2="243.0" stroke="#089981"/><line x1="543.5" x2="543.5" y1="233.2" y2="241.6" stroke="#089981"/><line x1="544.5" x2="544.5" y1="234.4" y2="236.1" stroke="#089981"/><line x1="545.5" x2="545.5" y1="232.1" y2="237.2" stroke="#089981"/><line x1="546.5" x2="546.5" y1="232.2" y2="235.9" stroke="#089981"/><line x1="547.5" x2="547.5" y1="230.6" y2="234.7" stroke="#089981"/><line x1="548.5" x2="548.5" y1="230.1" y2="234.0" stroke="#089981"/><line x1="549.5" x2="549.5" y1="230.6" y2="234.7" stroke="#f23645"/><line x1="550.5" x2="550.5" y1="229.5" y2="235.5" stroke="#f23645"/><line x1="551.5" x2="551.5" y1="230.3" y2="236.4" stroke="#f23645"/><line x1="552.5" x2="552.5" y1="234.0" y2="236.8" stroke="#f23645"/><line x1="553.5" x2="553.5" y1="234.8" y2="239.8" stroke="#f23645"/><line x1="554.5" x2="554.5" y1="237.8" y2="240.4" stroke="#f23645"/><line x1="555.5" x2="555.5" y1="238.4" y2="241.3" stroke="#f23645"/><line x1="556.5" x2="556.5" y1="238.8" y2="243.9" stroke="#089981"/><line x1="557.5" x2="557.5" y1="239.8" y2="242.5" stroke="#089981"/><line x1="558.5" x2="558.5" y1="239.3" y2="243.0" stroke="#089981"/><line x1="559.5" x2="559.5" y1="238.8" y2="240.8" stroke="#089981"/><line x1="560.5" x2="560.5" y1="237.3" y2="240.5" stroke="#f23645"/><line x1="561.5" x2="561.5" y1="238.1" y2="241.3" stroke="#089981"/><line x1="562.5" x2="562.5" y1="238.1" y2="240.3" stroke="#f23645"/><line x1="563.5" x2="563.5" y1="237.4" y2="241.1" stroke="#089981"/><line x1="564.5" x2="564.5" y1="236.8" y2="239.0" stroke="#089981"/><line x1="565.5" x2="565.5" y1="236.5" y2="238.7" stroke="#089981"/><line x1="566.5" x2="566.5" y1="235.7" y2="240.3" stroke="#089981"/><line x1="567.5" x2="567.5" y1="232.0" y2="238.2" stroke="#089981"/><line x1="568.5" x2="568.5" y1="232.9" y2="239.1" stroke="#f23645"/><line x1="569.5" x2="569.5" y1="235.7" y2="239.4" stroke="#f23645"/><line x1="570.5" x2="570.5" y1="237.3" y2="241.6" stroke="#f23645"/><line x1="571.5" x2="571.5" y1="237.7" y2="241.8" stroke="#f23645"/><line x1="572.5" x2="572.5" y1="239.4" y2="244.2" stroke="#089981"/><line x1="573.5" x2="573.5" y1="238.9" y2="242.1" stroke="#089981"/><line x1="574.5" x2="574.5" y1="236.1" y2="241.9" stroke="#089981"/><line x1="575.5" x2="575.5" y1="235.3" y2="240.4" stroke="#089981"/><line x1="576.5" x2="576.5" y1="237.7" y2="241.7" stroke="#f23645"/><line x1="577.5" x2="577.5" y1="239.7" y2="243.8" stroke="#f23645"/><line x1="578.5" x2="578.5" y1="240.0" y2="245.0" stroke="#f23645"/><line x1="579.5" x2="579.5" y1="241.4" y2="245.1" stroke="#089981"/><line x1="580.5" x2="580.5" y1="240.9" y2="244.1" stroke="#089981"/><line x1="581.5" x2="581.5" y1="238.8" y2="243.8" stroke="#089981"/><line x1="582.5" x2="582.5" y1="236.2" y2="241.2" stroke="#089981"/><line x1="583.5" x2="583.5" y1="232.4" y2="239.1" stroke="#089981"/><line x1="584.5" x2="584.5" y1="232.9" y2="237.5" stroke="#089981"/><line x1="585.5" x2="585.5" y1="231.1" y2="234.9" stroke="#089981"/><line x1="586.5" x2="586.5" y1="231.1" y2="236.2" stroke="#f23645"/><line x1="587.5" x2="587.5" y1="231.9" y2="235.6" stroke="#089981"/><line x1="588.5" x2="588.5" y1="229.6" y2="233.7" stroke="#089981"/><line x1="589.5" x2="589.5" y1="229.3" y2="234.4" stroke="#089981"/><line x1="590.5" x2="590.5" y1="229.4" y2="231.6" stroke="#089981"/><line x1="591.5" x2="591.5" y1="226.1" y2="230.9" stroke="#089981"/><line x1="592.5" x2="592.5" y1="223.1" y2="228.6" stroke="#089981"/><line x1="593.5" x2="593.5" y1="221.5" y2="227.0" stroke="#089981"/><line x1="594.5" x2="594.5" y1="222.2" y2="223.4" stroke="#089981"/><line x1="595.5" x2="595.5" y1="220.4" y2="222.7" stroke="#089981"/><line x1="596.5" x2="596.5" y1="218.8" y2="220.9" stroke="#089981"/><line x1="597.5" x2="597.5" y1="214.7" y2="219.3" stroke="#089981"/><line x1="598.5" x2="598.5" y1="214.7" y2="220.7" stroke="#f23645"/><line x1="599.5" x2="599.5" y1="214.6" y2="217.9" stroke="#089981"/><line x1="600.5" x2="600.5" y1="214.0" y2="216.7" stroke="#089981"/><line x1="601.5" x2="601.5" y1="214.3" y2="216.0" stroke="#089981"/><line x1="602.5" x2="602.5" y1="211.2" y2="215.3" stroke="#089981"/><line x1="603.5" x2="603.5" y1="208.9" y2="213.7" stroke="#089981"/><line x1="604.5" x2="604.5" y1="208.5" y2="211.2" stroke="#089981"/><line x1="605.5" x2="605.5" y1="203.8" y2="209.5" stroke="#089981"/><line x1="606.5" x2="606.5" y1="205.7" y2="212.8" stroke="#f23645"/><line x1="607.5" x2="607.5" y1="210.8" y2="217.5" stroke="#f23645"/><line x1="608.5" x2="608.5" y1="216.0" y2="217.7" stroke="#089981"/><line x1="609.5" x2="609.5" y1="212.6" y2="217.5" stroke="#089981"/><line x1="610.5" x2="610.5" y1="212.0" y2="214.7" stroke="#089981"/><line x1="611.5" x2="611.5" y1="211.1" y2="214.8" stroke="#089981"/><line x1="612.5" x2="612.5" y1="212.1" y2="216.8" stroke="#f23645"/><line x1="613.5" x2="613.5" y1="214.3" y2="218.5" stroke="#f23645"/><line x1="614.5" x2="614.5" y1="214.5" y2="221.5" stroke="#f23645"/><line x1="615.5" x2="615.5" y1="218.5" y2="226.1" stroke="#f23645"/><line x1="616.5" x2="616.5" y1="224.1" y2="229.9" stroke="#f23645"/><line x1="617.5" x2="617.5" y1="226.7" y2="228.4" stroke="#089981"/><line x1="618.5" x2="618.5" y1="222.1" y2="227.2" stroke="#089981"/><line x1="619.5" x2="619.5" y1="221.9" y2="226.0" stroke="#089981"/><line x1="620.5" x2="620.5" y1="221.9" y2="225.2" stroke="#f23645"/><line x1="621.5" x2="621.5" y1="221.4" y2="227.4" stroke="#089981"/><line x1="622.5" x2="622.5" y1="222.8" y2="226.0" stroke="#f23645"/><line x1="623.5" x2="623.5" y1="224.2" y2="225.9" stroke="#089981"/><line x1="624.5" x2="624.5" y1="223.7" y2="226.6" stroke="#f23645"/><line x1="625.5" x2="625.5" y1="224.9" y2="229.5" stroke="#089981"/><line x1="626.5" x2="626.5" y1="224.8" y2="227.5" stroke="#089981"/><line x1="627.5" x2="627.5" y1="221.6" y2="226.3" stroke="#089981"/><line x1="628.5" x2="628.5" y1="218.9" y2="224.0" stroke="#089981"/><line x1="629.5" x2="629.5" y1="215.3" y2="221.3" stroke="#089981"/><line x1="630.5" x2="630.5" y1="214.4" y2="221.9" stroke="#f23645"/><line x1="631.5" x2="631.5" y1="220.4" y2="221.6" stroke="#f23645"/><line x1="632.5" x2="632.5" y1="219.6" y2="224.0" stroke="#f23645"/><line x1="633.5" x2="633.5" y1="222.5" y2="227.1" stroke="#f23645"/><line x1="634.5" x2="634.5" y1="223.4" y2="227.4" stroke="#f23645"/><line x1="635.5" x2="635.5" y1="226.9" y2="230.1" stroke="#089981"/><line x1="636.5" x2="636.5" y1="224.5" y2="229.6" stroke="#089981"/><line x1="637.5" x2="637.5" y1="225.9" y2="228.6" stroke="#f23645"/><line x1="638.5" x2="638.5" y1="224.0" y2="227.3" stroke="#089981"/><line x1="639.5" x2="639.5" y1="222.2" y2="225.0" stroke="#089981"/><line x1="640.5" x2="640.5" y1="222.7" y2="225.6" stroke="#f23645"/><line x1="641.5" x2="641.5" y1="221.7" y2="225.3" stroke="#f23645"/><line x1="642.5" x2="642.5" y1="222.9" y2="227.6" stroke="#f23645"/><line x1="643.5" x2="643.5" y1="227.1" y2="229.8" stroke="#f23645"/><line x1="644.5" x2="644.5" y1="226.2" y2="228.9" stroke="#f23645"/><line x1="645.5" x2="645.5" y1="224.9" y2="230.9" stroke="#f23645"/><line x1="646.5" x2="646.5" y1="225.9" y2="231.7" stroke="#f23645"/><line x1="647.5" x2="647.5" y1="229.7" y2="235.1" stroke="#f23645"/><line x1="648.5" x2="648.5" y1="231.7" y2="234.2" stroke="#f23645"/><line x1="649.5" x2="649.5" y1="231.0" y2="236.6" stroke="#089981"/><line x1="650.5" x2="650.5" y1="231.5" y2="236.1" stroke="#f23645"/><line x1="651.5" x2="651.5" y1="232.0" y2="238.9" stroke="#f23645"/><line x1="652.5" x2="652.5" y1="236.4" y2="250.0" stroke="#f23645"/><line x1="653.5" x2="653.5" y1="246.6" y2="252.1" stroke="#f23645"/><line x1="654.5" x2="654.5" y1="248.8" y2="250.0" stroke="#089981"/><line x1="655.5" x2="655.5" y1="243.5" y2="249.3" stroke="#089981"/><line x1="656.5" x2="656.5" y1="243.4" y2="246.1" stroke="#089981"/><line x1="657.5" x2="657.5" y1="241.1" y2="247.3" stroke="#089981"/><line x1="658.5" x2="658.5" y1="239.5" y2="244.6" stroke="#089981"/><line x1="659.5" x2="659.5" y1="241.9" y2="245.0" stroke="#f23645"/><line x1="660.5" x2="660.5" y1="242.6" y2="246.3" stroke="#089981"/><line x1="661.5" x2="661.5" y1="242.3" y2="245.0" stroke="#089981"/><line x1="662.5" x2="662.5" y1="240.6" y2="244.2" stroke="#089981"/><line x1="663.5" x2="663.5" y1="243.0" y2="244.2" stroke="#f23645"/><line x1="664.5" x2="664.5" y1="242.8" y2="245.2" stroke="#f23645"/><line x1="665.5" x2="665.5" y1="241.4" y2="247.1" stroke="#089981"/><line x1="666.5" x2="666.5" y1="240.5" y2="245.0" stroke="#f23645"/><line x1="667.5" x2="667.5" y1="244.5" y2="246.7" stroke="#f23645"/><line x1="668.5" x2="668.5" y1="242.2" y2="245.8" stroke="#f23645"/><line x1="669.5" x2="669.5" y1="243.7" y2="247.4" stroke="#f23645"/><line x1="670.5" x2="670.5" y1="243.5" y2="250.4" stroke="#f23645"/><line x1="671.5" x2="671.5" y1="247.9" y2="253.6" stroke="#f23645"/><line x1="672.5" x2="672.5" y1="248.2" y2="252.1" stroke="#089981"/><line x1="673.5" x2="673.5" y1="247.4" y2="251.6" stroke="#089981"/><line x1="674.5" x2="674.5" y1="247.6" y2="250.3" stroke="#089981"/><line x1="675.5" x2="675.5" y1="247.4" y2="251.1" stroke="#089981"/><line x1="676.5" x2="676.5" y1="246.9" y2="250.8" stroke="#f23645"/><line x1="677.5" x2="677.5" y1="247.9" y2="251.5" stroke="#f23645"/><line x1="678.5" x2="678.5" y1="248.1" y2="252.7" stroke="#f23645"/><line x1="679.5" x2="679.5" y1="252.2" y2="256.4" stroke="#f23645"/><line x1="680.5" x2="680.5" y1="254.9" y2="256.8" stroke="#f23645"/><line x1="681.5" x2="681.5" y1="254.8" y2="262.5" stroke="#f23645"/><line x1="682.5" x2="682.5" y1="259.2" y2="264.3" stroke="#089981"/><line x1="683.5" x2="683.5" y1="257.6" y2="262.2" stroke="#089981"/><line x1="684.5" x2="684.5" y1="256.7" y2="260.6" stroke="#089981"/><line x1="685.5" x2="685.5" y1="254.4" y2="258.7" stroke="#089981"/><line x1="686.5" x2="686.5" y1="255.1" y2="257.3" stroke="#089981"/><line x1="687.5" x2="687.5" y1="253.2" y2="256.8" stroke="#f23645"/><line x1="688.5" x2="688.5" y1="254.3" y2="258.0" stroke="#089981"/><line x1="689.5" x2="689.5" y1="252.8" y2="257.0" stroke="#f23645"/><line x1="690.5" x2="690.5" y1="250.9" y2="256.9" stroke="#089981"/><line x1="691.5" x2="691.5" y1="252.8" y2="256.0" stroke="#089981"/><line x1="692.5" x2="692.5" y1="250.6" y2="254.7" stroke="#089981"/><line x1="693.5" x2="693.5" y1="252.5" y2="256.6" stroke="#f23645"/><line x1="694.5" x2="694.5" y1="253.9" y2="255.6" stroke="#f23645"/><line x1="695.5" x2="695.5" y1="252.4" y2="256.0" stroke="#089981"/><line x1="696.5" x2="696.5" y1="252.4" y2="256.5" stroke="#f23645"/><line x1="697.5" x2="697.5" y1="254.2" y2="260.7" stroke="#f23645"/><line x1="698.5" x2="698.5" y1="256.8" y2="261.0" stroke="#f23645"/><line x1="699.5" x2="699.5" y1="258.9" y2="261.6" stroke="#f23645"/><line x1="700.5" x2="700.5" y1="259.6" y2="263.8" stroke="#f23645"/><line x1="701.5" x2="701.5" y1="260.6" y2="265.7" stroke="#f23645"/><line x1="702.5" x2="702.5" y1="261.9" y2="268.3" stroke="#f23645"/><line x1="703.5" x2="703.5" y1="264.9" y2="268.1" stroke="#f23645"/><line x1="704.5" x2="704.5" y1="265.9" y2="268.1" stroke="#f23645"/><line x1="705.5" x2="705.5" y1="265.0" y2="268.6" stroke="#089981"/><line x1="706.5" x2="706.5" y1="263.4" y2="265.6" stroke="#089981"/><line x1="707.5" x2="707.5" y1="262.3" y2="265.0" stroke="#089981"/><line x1="708.5" x2="708.5" y1="262.5" y2="264.7" stroke="#089981"/><line x1="709.5" x2="709.5" y1="262.0" y2="266.5" stroke="#f23645"/><line x1="710.5" x2="710.5" y1="262.6" y2="265.3" stroke="#f23645"/><line x1="711.5" x2="711.5" y1="264.2" y2="267.0" stroke="#f23645"/><line x1="712.5" x2="712.5" y1="265.3" y2="269.9" stroke="#089981"/><line x1="713.5" x2="713.5" y1="262.2" y2="267.3" stroke="#089981"/><line x1="714.5" x2="714.5" y1="261.8" y2="264.5" stroke="#089981"/><line x1="715.5" x2="715.5" y1="261.8" y2="265.9" stroke="#f23645"/><line x1="716.5" x2="716.5" y1="259.1" y2="264.0" stroke="#089981"/><line x1="717.5" x2="717.5" y1="255.6" y2="262.1" stroke="#089981"/><line x1="718.5" x2="718.5" y1="255.5" y2="260.4" stroke="#089981"/><line x1="719.5" x2="719.5" y1="256.0" y2="258.7" stroke="#f23645"/><line x1="720.5" x2="720.5" y1="256.8" y2="258.0" stroke="#f23645"/><line x1="721.5" x2="721.5" y1="256.2" y2="259.9" stroke="#f23645"/><line x1="722.5" x2="722.5" y1="255.9" y2="260.1" stroke="#f23645"/><line x1="723.5" x2="723.5" y1="259.1" y2="262.7" stroke="#089981"/><line x1="724.5" x2="724.5" y1="259.1" y2="261.0" stroke="#f23645"/><line x1="725.5" x2="725.5" y1="259.5" y2="264.2" stroke="#f23645"/><line x1="726.5" x2="726.5" y1="260.1" y2="262.3" stroke="#089981"/><line x1="727.5" x2="727.5" y1="260.1" y2="264.7" stroke="#f23645"/><line x1="728.5" x2="728.5" y1="257.0" y2="262.8" stroke="#089981"/><line x1="729.5" x2="729.5" y1="250.8" y2="260.0" stroke="#089981"/><line x1="730.5" x2="730.5" y1="241.4" y2="251.3" stroke="#089981"/><line x1="731.5" x2="731.5" y1="242.9" y2="245.5" stroke="#f23645"/><line x1="732.5" x2="732.5" y1="243.5" y2="247.7" stroke="#f23645"/><line x1="733.5" x2="733.5" y1="244.3" y2="249.2" stroke="#f23645"/><line x1="734.5" x2="734.5" y1="247.2" y2="252.9" stroke="#f23645"/><line x1="735.5" x2="735.5" y1="250.4" y2="252.6" stroke="#f23645"/><line x1="736.5" x2="736.5" y1="251.0" y2="256.5" stroke="#f23645"/><line x1="737.5" x2="737.5" y1="250.4" y2="256.5" stroke="#089981"/><line x1="738.5" x2="738.5" y1="250.3" y2="253.8" stroke="#089981"/><line x1="739.5" x2="739.5" y1="246.9" y2="250.5" stroke="#089981"/><line x1="740.5" x2="740.5" y1="248.8" y2="251.4" stroke="#f23645"/><line x1="741.5" x2="741.5" y1="249.9" y2="253.1" stroke="#f23645"/><line x1="742.5" x2="742.5" y1="248.2" y2="251.8" stroke="#089981"/><line x1="743.5" x2="743.5" y1="249.6" y2="252.7" stroke="#f23645"/><line x1="744.5" x2="744.5" y1="251.8" y2="254.5" stroke="#089981"/><line x1="745.5" x2="745.5" y1="246.4" y2="253.3" stroke="#089981"/><line x1="746.5" x2="746.5" y1="247.3" y2="252.4" stroke="#f23645"/><line x1="747.5" x2="747.5" y1="250.9" y2="262.5" stroke="#f23645"/><line x1="748.5" x2="748.5" y1="258.5" y2="260.1" stroke="#089981"/><line x1="749.5" x2="749.5" y1="256.9" y2="258.6" stroke="#089981"/><line x1="750.5" x2="750.5" y1="254.5" y2="257.4" stroke="#089981"/><line x1="751.5" x2="751.5" y1="255.5" y2="258.8" stroke="#f23645"/><line x1="752.5" x2="752.5" y1="253.9" y2="258.0" stroke="#089981"/><line x1="753.5" x2="753.5" y1="254.8" y2="260.0" stroke="#f23645"/><line x1="754.5" x2="754.5" y1="252.6" y2="257.6" stroke="#089981"/><line x1="755.5" x2="755.5" y1="248.4" y2="253.6" stroke="#089981"/><line x1="756.5" x2="756.5" y1="248.4" y2="253.9" stroke="#f23645"/><line x1="757.5" x2="757.5" y1="251.4" y2="256.7" stroke="#f23645"/><line x1="758.5" x2="758.5" y1="253.7" y2="260.5" stroke="#f23645"/><line x1="759.5" x2="759.5" y1="258.0" y2="261.2" stroke="#f23645"/><line x1="760.5" x2="760.5" y1="259.0" y2="263.1" stroke="#f23645"/><line x1="761.5" x2="761.5" y1="259.2" y2="265.4" stroke="#f23645"/><line x1="762.5" x2="762.5" y1="261.5" y2="266.1" stroke="#f23645"/><line x1="763.5" x2="763.5" y1="263.4" y2="267.0" stroke="#f23645"/><line x1="764.5" x2="764.5" y1="266.5" y2="269.1" stroke="#f23645"/><line x1="765.5" x2="765.5" y1="265.9" y2="271.0" stroke="#089981"/><line x1="766.5" x2="766.5" y1="260.5" y2="268.4" stroke="#089981"/><line x1="767.5" x2="767.5" y1="262.9" y2="265.1" stroke="#f23645"/><line x1="768.5" x2="768.5" y1="259.6" y2="264.5" stroke="#089981"/><line x1="769.5" x2="769.5" y1="259.1" y2="264.4" stroke="#f23645"/><line x1="770.5" x2="770.5" y1="256.0" y2="263.0" stroke="#089981"/><line x1="771.5" x2="771.5" y1="253.8" y2="260.8" stroke="#089981"/><line x1="772.5" x2="772.5" y1="253.8" y2="257.2" stroke="#f23645"/><line x1="773.5" x2="773.5" y1="255.7" y2="259.1" stroke="#f23645"/><line x1="774.5" x2="774.5" y1="259.1" y2="262.3" stroke="#f23645"/><line x1="775.5" x2="775.5" y1="258.8" y2="262.0" stroke="#089981"/><line x1="776.5" x2="776.5" y1="257.7" y2="260.8" stroke="#089981"/><line x1="777.5" x2="777.5" y1="256.3" y2="261.0" stroke="#f23645"/><line x1="778.5" x2="778.5" y1="255.1" y2="260.5" stroke="#089981"/><line x1="779.5" x2="779.5" y1="254.1" y2="257.3" stroke="#089981"/><line x1="780.5" x2="780.5" y1="252.4" y2="255.6" stroke="#089981"/><line x1="781.5" x2="781.5" y1="250.5" y2="254.8" stroke="#089981"/><line x1="782.5" x2="782.5" y1="251.0" y2="253.2" stroke="#f23645"/><line x1="783.5" x2="783.5" y1="248.4" y2="253.5" stroke="#089981"/><line x1="784.5" x2="784.5" y1="246.3" y2="250.9" stroke="#089981"/><line x1="785.5" x2="785.5" y1="244.5" y2="249.7" stroke="#089981"/><line x1="786.5" x2="786.5" y1="244.1" y2="248.7" stroke="#089981"/><line x1="787.5" x2="787.5" y1="243.4" y2="245.1" stroke="#089981"/><line x1="788.5" x2="788.5" y1="242.3" y2="244.9" stroke="#089981"/><line x1="789.5" x2="789.5" y1="242.3" y2="246.8" stroke="#f23645"/><line x1="790.5" x2="790.5" y1="245.3" y2="247.7" stroke="#f23645"/><line x1="791.5" x2="791.5" y1="245.6" y2="247.8" stroke="#089981"/><line x1="792.5" x2="792.5" y1="244.6" y2="249.2" stroke="#089981"/><line x1="793.5" x2="793.5" y1="244.1" y2="249.2" stroke="#f23645"/><line x1="794.5" x2="794.5" y1="246.7" y2="248.0" stroke="#f23645"/><line x1="795.5" x2="795.5" y1="247.5" y2="250.9" stroke="#f23645"/><line x1="796.5" x2="796.5" y1="248.9" y2="253.5" stroke="#f23645"/><line x1="797.5" x2="797.5" y1="249.2" y2="256.8" stroke="#f23645"/><line x1="798.5" x2="798.5" y1="252.5" y2="256.7" stroke="#089981"/><line x1="799.5" x2="799.5" y1="252.4" y2="255.1" stroke="#089981"/><line x1="800.5" x2="800.5" y1="251.2" y2="253.9" stroke="#089981"/><line x1="801.5" x2="801.5" y1="250.3" y2="253.9" stroke="#f23645"/><line x1="802.5" x2="802.5" y1="250.4" y2="254.4" stroke="#089981"/><line x1="803.5" x2="803.5" y1="248.2" y2="251.4" stroke="#089981"/><line x1="804.5" x2="804.5" y1="246.3" y2="249.7" stroke="#089981"/><line x1="805.5" x2="805.5" y1="242.2" y2="247.8" stroke="#089981"/><line x1="806.5" x2="806.5" y1="239.9" y2="245.2" stroke="#089981"/><line x1="807.5" x2="807.5" y1="236.2" y2="240.9" stroke="#089981"/><line x1="808.5" x2="808.5" y1="236.2" y2="241.9" stroke="#f23645"/><line x1="809.5" x2="809.5" y1="239.9" y2="246.9" stroke="#f23645"/><line x1="810.5" x2="810.5" y1="240.6" y2="245.0" stroke="#089981"/><line x1="811.5" x2="811.5" y1="241.5" y2="245.2" stroke="#f23645"/><line x1="812.5" x2="812.5" y1="241.4" y2="246.0" stroke="#089981"/><line x1="813.5" x2="813.5" y1="237.9" y2="242.4" stroke="#089981"/><line x1="814.5" x2="814.5" y1="236.3" y2="240.4" stroke="#089981"/><line x1="815.5" x2="815.5" y1="234.0" y2="239.2" stroke="#089981"/><line x1="816.5" x2="816.5" y1="232.1" y2="240.6" stroke="#f23645"/><line x1="817.5" x2="817.5" y1="236.7" y2="240.9" stroke="#f23645"/><line x1="818.5" x2="818.5" y1="238.9" y2="243.6" stroke="#f23645"/><line x1="819.5" x2="819.5" y1="240.2" y2="245.3" stroke="#f23645"/><line x1="820.5" x2="820.5" y1="240.6" y2="243.6" stroke="#089981"/><line x1="821.5" x2="821.5" y1="239.7" y2="244.3" stroke="#f23645"/><line x1="822.5" x2="822.5" y1="241.9" y2="245.7" stroke="#f23645"/><line x1="823.5" x2="823.5" y1="241.8" y2="247.1" stroke="#089981"/><line x1="824.5" x2="824.5" y1="242.8" y2="245.5" stroke="#f23645"/><line x1="825.5" x2="825.5" y1="242.3" y2="245.5" stroke="#089981"/><line x1="826.5" x2="826.5" y1="242.3" y2="245.0" stroke="#f23645"/><line x1="827.5" x2="827.5" y1="240.1" y2="244.3" stroke="#089981"/><line x1="828.5" x2="828.5" y1="241.1" y2="245.2" stroke="#f23645"/><line x1="829.5" x2="829.5" y1="237.8" y2="242.8" stroke="#089981"/><line x1="830.5" x2="830.5" y1="239.9" y2="241.1" stroke="#089981"/><line x1="831.5" x2="831.5" y1="239.9" y2="243.5" stroke="#f23645"/><line x1="832.5" x2="832.5" y1="240.7" y2="244.3" stroke="#f23645"/><line x1="833.5" x2="833.5" y1="240.1" y2="243.3" stroke="#f23645"/><line x1="834.5" x2="834.5" y1="241.4" y2="245.5" stroke="#089981"/><line x1="835.5" x2="835.5" y1="240.0" y2="243.4" stroke="#089981"/><line x1="836.5" x2="836.5" y1="239.0" y2="242.7" stroke="#f23645"/><line x1="837.5" x2="837.5" y1="241.1" y2="245.8" stroke="#f23645"/><line x1="838.5" x2="838.5" y1="241.9" y2="246.2" stroke="#f23645"/><line x1="839.5" x2="839.5" y1="245.2" y2="247.4" stroke="#f23645"/><line x1="840.5" x2="840.5" y1="245.8" y2="249.7" stroke="#f23645"/><line x1="841.5" x2="841.5" y1="247.9" y2="250.6" stroke="#089981"/><line x1="842.5" x2="842.5" y1="248.4" y2="252.1" stroke="#f23645"/><line x1="843.5" x2="843.5" y1="249.2" y2="253.8" stroke="#f23645"/><line x1="844.5" x2="844.5" y1="249.7" y2="252.8" stroke="#089981"/><line x1="845.5" x2="845.5" y1="249.7" y2="251.9" stroke="#f23645"/><line x1="846.5" x2="846.5" y1="248.5" y2="251.3" stroke="#089981"/><line x1="847.5" x2="847.5" y1="247.6" y2="251.7" stroke="#089981"/><line x1="848.5" x2="848.5" y1="247.1" y2="249.8" stroke="#089981"/><line x1="849.5" x2="849.5" y1="247.1" y2="250.8" stroke="#f23645"/><line x1="850.5" x2="850.5" y1="247.0" y2="250.6" stroke="#089981"/><line x1="851.5" x2="851.5" y1="246.4" y2="250.5" stroke="#089981"/><line x1="852.5" x2="852.5" y1="246.9" y2="248.9" stroke="#f23645"/><line x1="853.5" x2="853.5" y1="246.0" y2="249.7" stroke="#f23645"/><line x1="854.5" x2="854.5" y1="247.3" y2="253.1" stroke="#f23645"/><line x1="855.5" x2="855.5" y1="251.6" y2="254.6" stroke="#f23645"/><line x1="856.5" x2="856.5" y1="252.1" y2="256.9" stroke="#f23645"/><line x1="857.5" x2="857.5" y1="256.4" y2="257.8" stroke="#f23645"/><line x1="858.5" x2="858.5" y1="256.8" y2="261.0" stroke="#f23645"/><line x1="859.5" x2="859.5" y1="260.0" y2="261.7" stroke="#f23645"/><line x1="860.5" x2="860.5" y1="261.3" y2="264.0" stroke="#f23645"/><line x1="861.5" x2="861.5" y1="261.0" y2="263.2" stroke="#089981"/><line x1="862.5" x2="862.5" y1="259.2" y2="262.9" stroke="#089981"/><line x1="863.5" x2="863.5" y1="260.7" y2="262.4" stroke="#f23645"/><line x1="864.5" x2="864.5" y1="259.8" y2="262.0" stroke="#089981"/><line x1="865.5" x2="865.5" y1="259.8" y2="263.9" stroke="#089981"/><line x1="866.5" x2="866.5" y1="258.5" y2="260.8" stroke="#089981"/><line x1="867.5" x2="867.5" y1="258.0" y2="260.3" stroke="#f23645"/><line x1="868.5" x2="868.5" y1="258.8" y2="261.5" stroke="#f23645"/><line x1="869.5" x2="869.5" y1="259.3" y2="262.5" stroke="#f23645"/><line x1="870.5" x2="870.5" y1="261.0" y2="264.2" stroke="#f23645"/><line x1="871.5" x2="871.5" y1="263.0" y2="266.0" stroke="#f23645"/><line x1="872.5" x2="872.5" y1="263.6" y2="270.2" stroke="#f23645"/><line x1="873.5" x2="873.5" y1="267.3" y2="273.3" stroke="#f23645"/><line x1="874.5" x2="874.5" y1="270.4" y2="273.6" stroke="#f23645"/><line x1="875.5" x2="875.5" y1="268.5" y2="271.5" stroke="#089981"/><line x1="876.5" x2="876.5" y1="266.9" y2="270.5" stroke="#089981"/><line x1="877.5" x2="877.5" y1="263.6" y2="266.9" stroke="#089981"/><line x1="878.5" x2="878.5" y1="261.1" y2="264.1" stroke="#089981"/><line x1="879.5" x2="879.5" y1="262.1" y2="264.3" stroke="#f23645"/><line x1="880.5" x2="880.5" y1="261.3" y2="267.6" stroke="#f23645"/><line x1="881.5" x2="881.5" y1="265.1" y2="271.9" stroke="#f23645"/><line x1="882.5" x2="882.5" y1="270.8" y2="273.0" stroke="#089981"/><line x1="883.5" x2="883.5" y1="270.8" y2="272.7" stroke="#f23645"/><line x1="884.5" x2="884.5" y1="271.7" y2="274.2" stroke="#f23645"/><line x1="885.5" x2="885.5" y1="272.0" y2="274.2" stroke="#089981"/><line x1="886.5" x2="886.5" y1="272.0" y2="277.7" stroke="#f23645"/><line x1="887.5" x2="887.5" y1="275.3" y2="281.2" stroke="#f23645"/><line x1="888.5" x2="888.5" y1="278.2" y2="281.5" stroke="#f23645"/><line x1="889.5" x2="889.5" y1="278.6" y2="283.9" stroke="#089981"/><line x1="890.5" x2="890.5" y1="278.0" y2="280.2" stroke="#089981"/><line x1="891.5" x2="891.5" y1="276.6" y2="281.2" stroke="#089981"/><line x1="892.5" x2="892.5" y1="275.7" y2="278.9" stroke="#089981"/><line x1="893.5" x2="893.5" y1="276.1" y2="279.7" stroke="#089981"/><line x1="894.5" x2="894.5" y1="273.0" y2="276.6" stroke="#089981"/><line x1="895.5" x2="895.5" y1="275.4" y2="280.7" stroke="#f23645"/><line x1="896.5" x2="896.5" y1="275.9" y2="284.2" stroke="#f23645"/><line x1="897.5" x2="897.5" y1="279.7" y2="282.3" stroke="#089981"/><line x1="898.5" x2="898.5" y1="275.3" y2="281.7" stroke="#089981"/><line x1="899.5" x2="899.5" y1="275.9" y2="278.6" stroke="#089981"/><line x1="900.5" x2="900.5" y1="273.5" y2="277.1" stroke="#089981"/><line x1="901.5" x2="901.5" y1="273.4" y2="278.5" stroke="#089981"/><line x1="902.5" x2="902.5" y1="274.2" y2="279.3" stroke="#089981"/><line x1="903.5" x2="903.5" y1="274.2" y2="279.7" stroke="#f23645"/><line x1="904.5" x2="904.5" y1="275.8" y2="280.9" stroke="#f23645"/><line x1="905.5" x2="905.5" y1="276.5" y2="278.7" stroke="#f23645"/><line x1="906.5" x2="906.5" y1="275.3" y2="281.9" stroke="#f23645"/><line x1="907.5" x2="907.5" y1="279.5" y2="280.7" stroke="#f23645"/><line x1="908.5" x2="908.5" y1="279.0" y2="284.3" stroke="#f23645"/><line x1="909.5" x2="909.5" y1="280.4" y2="284.1" stroke="#f23645"/><line x1="910.5" x2="910.5" y1="282.3" y2="285.6" stroke="#f23645"/><line x1="911.5" x2="911.5" y1="281.7" y2="286.8" stroke="#f23645"/><line x1="912.5" x2="912.5" y1="282.3" y2="287.1" stroke="#089981"/><line x1="913.5" x2="913.5" y1="280.2" y2="283.4" stroke="#089981"/><line x1="914.5" x2="914.5" y1="280.7" y2="282.9" stroke="#f23645"/><line x1="915.5" x2="915.5" y1="279.7" y2="284.3" stroke="#089981"/><line x1="916.5" x2="916.5" y1="280.8" y2="283.0" stroke="#089981"/><line x1="917.5" x2="917.5" y1="279.9" y2="281.8" stroke="#089981"/><line x1="918.5" x2="918.5" y1="278.5" y2="283.6" stroke="#089981"/><line x1="853.5" x2="853.5" y1="249" y2="305" stroke="#f23645" stroke-width="1.2"/><line x1="413" x2="413" y1="198" y2="218" stroke="#f23645" stroke-width="1.2"/><line x1="505.6" x2="505.6" y1="236" y2="249" stroke="#f23645" stroke-width="1.2"/><line x1="480.6" x2="480.6" y1="226" y2="237" stroke="#f23645" stroke-width="1.2"/><line x1="652.4" x2="652.4" y1="232" y2="253" stroke="#f23645" stroke-width="1.2"/><line x1="101" x2="101" y1="196" y2="208" stroke="#f23645" stroke-width="1.2"/></g>
<path d="M238.4,232.5 L253.8,249.7 L246.8,249.7 L246.8,264.7 L230.0,264.7 L230.0,249.7 L223.0,249.7 Z" fill="#4caf50"/>
<path d="M504.5,254 L519.9,271.2 L512.9,271.2 L512.9,286.2 L496.1,286.2 L496.1,271.2 L489.1,271.2 Z" fill="#4caf50"/>
<path d="M704.3,270.5 L719.6999999999999,287.7 L712.6999999999999,287.7 L712.6999999999999,302.7 L695.9,302.7 L695.9,287.7 L688.9,287.7 Z" fill="#4caf50"/>
<path d="M892.4,288.2 L907.8,305.4 L900.8,305.4 L900.8,320.4 L884.0,320.4 L884.0,305.4 L877.0,305.4 Z" fill="#4caf50"/>
<g stroke="#fff0c8" stroke-width="1.8" fill="none" stroke-linecap="round" stroke-linejoin="round"><line x1="271" y1="207" x2="324" y2="174"/><polyline points="313,171.6 324,174 322,185"/></g>
<g stroke="#fff0c8" stroke-width="1.8" fill="none" stroke-linecap="round" stroke-linejoin="round"><line x1="570" y1="231" x2="600.6" y2="206"/><polyline points="589,205.6 600.6,206 600.6,216.6"/></g>
<g stroke="#fff0c8" stroke-width="1.8" fill="none" stroke-linecap="round" stroke-linejoin="round"><line x1="760" y1="256" x2="792" y2="228.6"/><polyline points="781,228.6 792,228.6 791.6,240"/></g>
<g stroke="#fff0c8" stroke-width="1.8" fill="none" stroke-linecap="round" stroke-linejoin="round"><line x1="925" y1="274.6" x2="947.4" y2="250"/><polyline points="936,251.6 947.4,250 947.4,262"/></g>
<line x1="945.9" x2="1055" y1="248.5" y2="248.5" stroke="#fff" stroke-width="1.2" stroke-dasharray="5.2 5.75"/>
<rect x="760" y="242.5" width="1.4" height="1.4" fill="#9a9a9a"/>
</g>
<path d="M34.2,414 L43.8,414 L43.8,418.6 L49.3,418.6 L49.3,414 L57.6,414 L57.6,418.6 L63.2,418.6 L63.2,410.8 Q69,408 69,403.5 L69,387.2 A5.7,5.7 0 0 0 57.6,387.2 L57.6,388.6 L63.5,388.6 L63.5,401.7 Q58,397.3 52.7,397.6 Q47.6,398 45.0,402.2 Z" fill="none" stroke="#f0f0f0" stroke-width="2" stroke-linejoin="round"/>
<circle cx="918.5" cy="401.5" r="15.4" fill="none" stroke="#f23645" stroke-width="2.7"/>
<g clip-path="url(#cpFlag)"><rect x="905" y="388" width="28" height="28" fill="#ef5350"/><rect x="905" y="395" width="28" height="4.1" fill="#fff"/><rect x="905" y="403.7" width="28" height="4.4" fill="#fff"/><rect x="905" y="388" width="15.9" height="15.7" fill="#1e88e5"/><circle cx="909.7" cy="392.9" r="0.9" fill="#fff"/><circle cx="909.7" cy="396.8" r="0.9" fill="#fff"/><circle cx="909.7" cy="400.6" r="0.9" fill="#fff"/><circle cx="913.5" cy="392.9" r="0.9" fill="#fff"/><circle cx="913.5" cy="396.8" r="0.9" fill="#fff"/><circle cx="913.5" cy="400.6" r="0.9" fill="#fff"/><circle cx="917.6" cy="392.9" r="0.9" fill="#fff"/><circle cx="917.6" cy="396.8" r="0.9" fill="#fff"/><circle cx="917.6" cy="400.6" r="0.9" fill="#fff"/></g>
<g clip-path="url(#cpMacd)">
<line x1="15" x2="1055" y1="518.5" y2="518.5" stroke="#5f5f5f" stroke-width="1.2" stroke-dasharray="5.2 5.8"/>
<rect x="128" y="517" width="790" height="3" fill="#000"/>
<rect x="128" y="518.5" width="1" height="35.4" fill="#ffcdd2"/><rect x="129" y="518.5" width="1" height="33.3" fill="#ffcdd2"/><rect x="130" y="518.5" width="1" height="31.2" fill="#ffcdd2"/><rect x="131" y="518.5" width="1" height="29.0" fill="#ffcdd2"/><rect x="132" y="518.5" width="1" height="26.9" fill="#ffcdd2"/><rect x="133" y="518.5" width="1" height="25.2" fill="#ffcdd2"/><rect x="134" y="518.5" width="1" height="23.6" fill="#ffcdd2"/><rect x="135" y="518.5" width="1" height="22.0" fill="#ffcdd2"/><rect x="136" y="518.5" width="1" height="20.4" fill="#ffcdd2"/><rect x="137" y="518.5" width="1" height="18.8" fill="#ffcdd2"/><rect x="138" y="518.5" width="1" height="17.2" fill="#ff5252"/><rect x="139" y="518.5" width="1" height="15.8" fill="#ffcdd2"/><rect x="140" y="518.5" width="1" height="14.2" fill="#ff5252"/><rect x="141" y="518.5" width="1" height="12.8" fill="#ffcdd2"/><rect x="142" y="518.5" width="1" height="11.2" fill="#ffcdd2"/><rect x="143" y="518.5" width="1" height="9.8" fill="#ff5252"/><rect x="144" y="518.5" width="1" height="7.3" fill="#ffcdd2"/><rect x="145" y="518.5" width="1" height="4.5" fill="#ffcdd2"/><rect x="146" y="518.5" width="1" height="1.7" fill="#ffcdd2"/><rect x="148" y="517.0" width="1" height="1.5" fill="#26a69a"/><rect x="149" y="516.3" width="1" height="2.2" fill="#b2dfdb"/><rect x="150" y="516.3" width="1" height="2.2" fill="#26a69a"/><rect x="151" y="517.0" width="1" height="1.5" fill="#26a69a"/><rect x="152" y="517.7" width="1" height="0.8" fill="#b2dfdb"/><rect x="153" y="514.4" width="1" height="4.1" fill="#26a69a"/><rect x="154" y="508.7" width="1" height="9.8" fill="#b2dfdb"/><rect x="155" y="505.2" width="1" height="13.3" fill="#26a69a"/><rect x="156" y="506.1" width="1" height="12.4" fill="#b2dfdb"/><rect x="157" y="507.2" width="1" height="11.2" fill="#b2dfdb"/><rect x="158" y="508.1" width="1" height="10.4" fill="#b2dfdb"/><rect x="159" y="508.6" width="1" height="9.9" fill="#b2dfdb"/><rect x="160" y="509.1" width="1" height="9.4" fill="#b2dfdb"/><rect x="161" y="512.6" width="1" height="5.9" fill="#b2dfdb"/><rect x="162" y="517.9" width="1" height="0.6" fill="#b2dfdb"/><rect x="163" y="518.5" width="1" height="3.0" fill="#ff5252"/><rect x="164" y="518.5" width="1" height="6.0" fill="#ff5252"/><rect x="165" y="518.5" width="1" height="9.0" fill="#ff5252"/><rect x="166" y="518.5" width="1" height="11.6" fill="#ff5252"/><rect x="167" y="518.5" width="1" height="14.1" fill="#ff5252"/><rect x="168" y="518.5" width="1" height="14.9" fill="#ff5252"/><rect x="169" y="518.5" width="1" height="12.9" fill="#ffcdd2"/><rect x="170" y="518.5" width="1" height="9.9" fill="#ffcdd2"/><rect x="171" y="518.5" width="1" height="5.9" fill="#ff5252"/><rect x="172" y="518.5" width="1" height="2.2" fill="#ffcdd2"/><rect x="173" y="516.6" width="1" height="1.9" fill="#26a69a"/><rect x="174" y="508.6" width="1" height="9.9" fill="#26a69a"/><rect x="175" y="504.1" width="1" height="14.4" fill="#26a69a"/><rect x="176" y="504.1" width="1" height="14.4" fill="#26a69a"/><rect x="177" y="502.2" width="1" height="16.3" fill="#26a69a"/><rect x="178" y="499.1" width="1" height="19.4" fill="#b2dfdb"/><rect x="179" y="502.5" width="1" height="16.0" fill="#b2dfdb"/><rect x="180" y="504.5" width="1" height="14.0" fill="#b2dfdb"/><rect x="181" y="505.1" width="1" height="13.4" fill="#b2dfdb"/><rect x="182" y="505.4" width="1" height="13.1" fill="#b2dfdb"/><rect x="183" y="505.4" width="1" height="13.1" fill="#26a69a"/><rect x="184" y="510.6" width="1" height="7.9" fill="#26a69a"/><rect x="185" y="515.6" width="1" height="2.9" fill="#b2dfdb"/><rect x="187" y="518.5" width="1" height="1.0" fill="#ff5252"/><rect x="188" y="518.5" width="1" height="1.2" fill="#ffcdd2"/><rect x="189" y="518.5" width="1" height="1.1" fill="#ffcdd2"/><rect x="190" y="518.5" width="1" height="0.9" fill="#ffcdd2"/><rect x="191" y="514.5" width="1" height="4.0" fill="#26a69a"/><rect x="192" y="511.2" width="1" height="7.3" fill="#b2dfdb"/><rect x="193" y="508.3" width="1" height="10.2" fill="#26a69a"/><rect x="194" y="506.1" width="1" height="12.4" fill="#b2dfdb"/><rect x="195" y="504.5" width="1" height="14.0" fill="#b2dfdb"/><rect x="196" y="507.9" width="1" height="10.6" fill="#b2dfdb"/><rect x="197" y="511.2" width="1" height="7.3" fill="#b2dfdb"/><rect x="198" y="514.5" width="1" height="4.0" fill="#b2dfdb"/><rect x="199" y="517.2" width="1" height="1.2" fill="#b2dfdb"/><rect x="200" y="518.5" width="1" height="1.2" fill="#ff5252"/><rect x="201" y="518.5" width="1" height="3.4" fill="#ff5252"/><rect x="202" y="518.5" width="1" height="5.6" fill="#ff5252"/><rect x="203" y="518.5" width="1" height="6.9" fill="#ff5252"/><rect x="204" y="518.5" width="1" height="8.1" fill="#ffcdd2"/><rect x="205" y="518.5" width="1" height="8.9" fill="#ff5252"/><rect x="206" y="518.5" width="1" height="9.1" fill="#ff5252"/><rect x="207" y="518.5" width="1" height="9.4" fill="#ff5252"/><rect x="208" y="518.5" width="1" height="7.9" fill="#ffcdd2"/><rect x="209" y="518.5" width="1" height="6.4" fill="#ffcdd2"/><rect x="210" y="518.5" width="1" height="4.6" fill="#ffcdd2"/><rect x="211" y="518.5" width="1" height="2.6" fill="#ffcdd2"/><rect x="212" y="518.5" width="1" height="0.6" fill="#ffcdd2"/><rect x="215" y="517.8" width="1" height="0.7" fill="#26a69a"/><rect x="216" y="517.5" width="1" height="1.0" fill="#b2dfdb"/><rect x="218" y="518.5" width="1" height="2.1" fill="#ff5252"/><rect x="219" y="518.5" width="1" height="6.6" fill="#ff5252"/><rect x="220" y="518.5" width="1" height="11.3" fill="#ff5252"/><rect x="221" y="518.5" width="1" height="11.5" fill="#ff5252"/><rect x="222" y="518.5" width="1" height="11.1" fill="#ffcdd2"/><rect x="223" y="518.5" width="1" height="10.7" fill="#ff5252"/><rect x="224" y="518.5" width="1" height="9.9" fill="#ff5252"/><rect x="225" y="518.5" width="1" height="8.9" fill="#ffcdd2"/><rect x="226" y="518.5" width="1" height="7.8" fill="#ffcdd2"/><rect x="227" y="518.5" width="1" height="6.6" fill="#ffcdd2"/><rect x="228" y="518.5" width="1" height="5.3" fill="#ffcdd2"/><rect x="229" y="518.5" width="1" height="4.4" fill="#ffcdd2"/><rect x="230" y="518.5" width="1" height="3.7" fill="#ffcdd2"/><rect x="231" y="518.5" width="1" height="2.9" fill="#ffcdd2"/><rect x="232" y="518.5" width="1" height="2.2" fill="#ffcdd2"/><rect x="233" y="518.5" width="1" height="1.4" fill="#ffcdd2"/><rect x="234" y="518.5" width="1" height="0.6" fill="#ffcdd2"/><rect x="236" y="516.8" width="1" height="1.7" fill="#26a69a"/><rect x="237" y="515.2" width="1" height="3.3" fill="#26a69a"/><rect x="238" y="515.1" width="1" height="3.4" fill="#26a69a"/><rect x="239" y="517.6" width="1" height="0.9" fill="#b2dfdb"/><rect x="240" y="518.5" width="1" height="1.8" fill="#ff5252"/><rect x="241" y="518.5" width="1" height="4.1" fill="#ff5252"/><rect x="242" y="518.5" width="1" height="3.5" fill="#ffcdd2"/><rect x="243" y="518.5" width="1" height="1.2" fill="#ffcdd2"/><rect x="244" y="517.5" width="1" height="1.0" fill="#26a69a"/><rect x="245" y="514.1" width="1" height="4.4" fill="#26a69a"/><rect x="246" y="511.3" width="1" height="7.2" fill="#26a69a"/><rect x="247" y="510.0" width="1" height="8.5" fill="#b2dfdb"/><rect x="248" y="509.6" width="1" height="8.9" fill="#b2dfdb"/><rect x="249" y="511.0" width="1" height="7.5" fill="#b2dfdb"/><rect x="250" y="511.8" width="1" height="6.7" fill="#b2dfdb"/><rect x="251" y="512.1" width="1" height="6.4" fill="#b2dfdb"/><rect x="252" y="510.4" width="1" height="8.1" fill="#26a69a"/><rect x="253" y="507.4" width="1" height="11.1" fill="#26a69a"/><rect x="254" y="505.1" width="1" height="13.4" fill="#26a69a"/><rect x="255" y="503.1" width="1" height="15.4" fill="#26a69a"/><rect x="256" y="501.6" width="1" height="16.9" fill="#26a69a"/><rect x="257" y="503.8" width="1" height="14.7" fill="#b2dfdb"/><rect x="258" y="507.6" width="1" height="10.9" fill="#26a69a"/><rect x="259" y="510.3" width="1" height="8.2" fill="#b2dfdb"/><rect x="260" y="513.3" width="1" height="5.2" fill="#b2dfdb"/><rect x="261" y="516.6" width="1" height="1.9" fill="#b2dfdb"/><rect x="262" y="518.5" width="1" height="0.6" fill="#ff5252"/><rect x="263" y="518.5" width="1" height="1.0" fill="#ff5252"/><rect x="264" y="518.5" width="1" height="1.3" fill="#ff5252"/><rect x="265" y="518.5" width="1" height="1.6" fill="#ff5252"/><rect x="266" y="518.5" width="1" height="2.1" fill="#ffcdd2"/><rect x="267" y="518.5" width="1" height="2.8" fill="#ff5252"/><rect x="268" y="518.5" width="1" height="3.6" fill="#ff5252"/><rect x="269" y="518.5" width="1" height="4.0" fill="#ffcdd2"/><rect x="270" y="518.5" width="1" height="4.3" fill="#ff5252"/><rect x="271" y="518.5" width="1" height="1.1" fill="#ffcdd2"/><rect x="272" y="517.8" width="1" height="0.8" fill="#26a69a"/><rect x="273" y="513.7" width="1" height="4.8" fill="#26a69a"/><rect x="274" y="509.0" width="1" height="9.5" fill="#26a69a"/><rect x="275" y="507.1" width="1" height="11.4" fill="#26a69a"/><rect x="276" y="506.1" width="1" height="12.4" fill="#26a69a"/><rect x="277" y="505.2" width="1" height="13.2" fill="#26a69a"/><rect x="278" y="504.8" width="1" height="13.8" fill="#26a69a"/><rect x="279" y="504.2" width="1" height="14.2" fill="#26a69a"/><rect x="280" y="503.6" width="1" height="14.9" fill="#26a69a"/><rect x="281" y="502.8" width="1" height="15.7" fill="#b2dfdb"/><rect x="282" y="502.1" width="1" height="16.4" fill="#b2dfdb"/><rect x="283" y="501.6" width="1" height="16.9" fill="#26a69a"/><rect x="284" y="501.1" width="1" height="17.4" fill="#26a69a"/><rect x="285" y="501.8" width="1" height="16.8" fill="#b2dfdb"/><rect x="286" y="502.8" width="1" height="15.8" fill="#26a69a"/><rect x="287" y="503.5" width="1" height="15.0" fill="#b2dfdb"/><rect x="288" y="504.1" width="1" height="14.4" fill="#b2dfdb"/><rect x="289" y="508.1" width="1" height="10.4" fill="#b2dfdb"/><rect x="290" y="512.1" width="1" height="6.4" fill="#b2dfdb"/><rect x="291" y="516.0" width="1" height="2.5" fill="#b2dfdb"/><rect x="292" y="518.5" width="1" height="1.5" fill="#ffcdd2"/><rect x="293" y="518.5" width="1" height="4.8" fill="#ff5252"/><rect x="294" y="518.5" width="1" height="8.1" fill="#ff5252"/><rect x="295" y="518.5" width="1" height="11.5" fill="#ff5252"/><rect x="296" y="518.5" width="1" height="15.0" fill="#ff5252"/><rect x="297" y="518.5" width="1" height="18.8" fill="#ff5252"/><rect x="298" y="518.5" width="1" height="15.3" fill="#ffcdd2"/><rect x="299" y="518.5" width="1" height="12.1" fill="#ffcdd2"/><rect x="300" y="518.5" width="1" height="9.5" fill="#ffcdd2"/><rect x="301" y="518.5" width="1" height="7.9" fill="#ffcdd2"/><rect x="302" y="518.5" width="1" height="7.4" fill="#ffcdd2"/><rect x="303" y="518.5" width="1" height="6.9" fill="#ffcdd2"/><rect x="304" y="518.5" width="1" height="5.5" fill="#ffcdd2"/><rect x="305" y="518.5" width="1" height="3.9" fill="#ffcdd2"/><rect x="307" y="515.1" width="1" height="3.4" fill="#26a69a"/><rect x="308" y="514.1" width="1" height="4.4" fill="#26a69a"/><rect x="309" y="512.5" width="1" height="6.0" fill="#26a69a"/><rect x="310" y="510.9" width="1" height="7.6" fill="#26a69a"/><rect x="311" y="509.9" width="1" height="8.6" fill="#26a69a"/><rect x="312" y="512.4" width="1" height="6.1" fill="#26a69a"/><rect x="313" y="511.6" width="1" height="6.9" fill="#26a69a"/><rect x="314" y="508.5" width="1" height="10.0" fill="#26a69a"/><rect x="315" y="509.8" width="1" height="8.8" fill="#b2dfdb"/><rect x="316" y="514.1" width="1" height="4.4" fill="#b2dfdb"/><rect x="317" y="518.5" width="1" height="0.6" fill="#ff5252"/><rect x="318" y="518.5" width="1" height="2.9" fill="#ff5252"/><rect x="319" y="518.5" width="1" height="5.0" fill="#ff5252"/><rect x="320" y="518.5" width="1" height="6.7" fill="#ff5252"/><rect x="321" y="518.5" width="1" height="2.5" fill="#ffcdd2"/><rect x="322" y="511.9" width="1" height="6.6" fill="#b2dfdb"/><rect x="323" y="501.0" width="1" height="17.5" fill="#26a69a"/><rect x="324" y="498.5" width="1" height="20.0" fill="#b2dfdb"/><rect x="325" y="496.9" width="1" height="21.6" fill="#26a69a"/><rect x="326" y="495.5" width="1" height="23.0" fill="#26a69a"/><rect x="327" y="494.9" width="1" height="23.6" fill="#26a69a"/><rect x="328" y="496.3" width="1" height="22.2" fill="#b2dfdb"/><rect x="329" y="495.6" width="1" height="22.9" fill="#26a69a"/><rect x="330" y="489.9" width="1" height="28.6" fill="#26a69a"/><rect x="331" y="486.4" width="1" height="32.1" fill="#26a69a"/><rect x="332" y="476.4" width="1" height="42.1" fill="#26a69a"/><rect x="333" y="480.1" width="1" height="38.4" fill="#26a69a"/><rect x="334" y="492.0" width="1" height="26.5" fill="#b2dfdb"/><rect x="335" y="502.0" width="1" height="16.5" fill="#b2dfdb"/><rect x="336" y="505.0" width="1" height="13.5" fill="#b2dfdb"/><rect x="337" y="496.6" width="1" height="21.9" fill="#26a69a"/><rect x="338" y="490.4" width="1" height="28.1" fill="#26a69a"/><rect x="339" y="490.5" width="1" height="28.0" fill="#b2dfdb"/><rect x="340" y="497.9" width="1" height="20.6" fill="#b2dfdb"/><rect x="341" y="507.9" width="1" height="10.6" fill="#b2dfdb"/><rect x="342" y="515.2" width="1" height="3.2" fill="#b2dfdb"/><rect x="343" y="518.5" width="1" height="4.6" fill="#ff5252"/><rect x="344" y="518.5" width="1" height="20.4" fill="#ff5252"/><rect x="345" y="518.5" width="1" height="33.4" fill="#ff5252"/><rect x="346" y="518.5" width="1" height="42.7" fill="#ff5252"/><rect x="347" y="518.5" width="1" height="49.4" fill="#ff5252"/><rect x="348" y="518.5" width="1" height="53.9" fill="#ff5252"/><rect x="349" y="518.5" width="1" height="50.1" fill="#ffcdd2"/><rect x="350" y="518.5" width="1" height="43.0" fill="#ffcdd2"/><rect x="351" y="518.5" width="1" height="35.3" fill="#ffcdd2"/><rect x="352" y="518.5" width="1" height="27.4" fill="#ffcdd2"/><rect x="353" y="518.5" width="1" height="20.6" fill="#ffcdd2"/><rect x="354" y="518.5" width="1" height="16.4" fill="#ffcdd2"/><rect x="355" y="518.5" width="1" height="15.0" fill="#ffcdd2"/><rect x="356" y="518.5" width="1" height="14.5" fill="#ffcdd2"/><rect x="357" y="518.5" width="1" height="14.9" fill="#ff5252"/><rect x="358" y="518.5" width="1" height="12.2" fill="#ffcdd2"/><rect x="359" y="518.5" width="1" height="7.1" fill="#ffcdd2"/><rect x="360" y="518.5" width="1" height="1.5" fill="#ffcdd2"/><rect x="361" y="515.3" width="1" height="3.2" fill="#26a69a"/><rect x="362" y="509.9" width="1" height="8.6" fill="#26a69a"/><rect x="363" y="505.8" width="1" height="12.7" fill="#26a69a"/><rect x="364" y="502.5" width="1" height="16.0" fill="#26a69a"/><rect x="365" y="499.4" width="1" height="19.1" fill="#26a69a"/><rect x="366" y="496.4" width="1" height="22.1" fill="#26a69a"/><rect x="367" y="501.7" width="1" height="16.8" fill="#b2dfdb"/><rect x="368" y="506.6" width="1" height="11.9" fill="#b2dfdb"/><rect x="369" y="510.6" width="1" height="7.9" fill="#b2dfdb"/><rect x="370" y="514.6" width="1" height="3.9" fill="#26a69a"/><rect x="371" y="518.5" width="1" height="2.8" fill="#ffcdd2"/><rect x="372" y="518.5" width="1" height="11.6" fill="#ff5252"/><rect x="373" y="518.5" width="1" height="20.6" fill="#ffcdd2"/><rect x="374" y="518.5" width="1" height="21.8" fill="#ff5252"/><rect x="375" y="518.5" width="1" height="16.4" fill="#ffcdd2"/><rect x="376" y="518.5" width="1" height="12.4" fill="#ffcdd2"/><rect x="377" y="518.5" width="1" height="8.4" fill="#ffcdd2"/><rect x="378" y="518.5" width="1" height="3.4" fill="#ff5252"/><rect x="379" y="515.4" width="1" height="3.1" fill="#26a69a"/><rect x="380" y="513.3" width="1" height="5.2" fill="#26a69a"/><rect x="381" y="513.3" width="1" height="5.2" fill="#26a69a"/><rect x="382" y="515.4" width="1" height="3.1" fill="#b2dfdb"/><rect x="383" y="505.4" width="1" height="13.1" fill="#26a69a"/><rect x="384" y="502.9" width="1" height="15.6" fill="#26a69a"/><rect x="385" y="506.2" width="1" height="12.3" fill="#26a69a"/><rect x="386" y="509.2" width="1" height="9.3" fill="#b2dfdb"/><rect x="387" y="511.9" width="1" height="6.6" fill="#b2dfdb"/><rect x="388" y="515.4" width="1" height="3.1" fill="#b2dfdb"/><rect x="390" y="518.5" width="1" height="5.9" fill="#ff5252"/><rect x="391" y="518.5" width="1" height="14.4" fill="#ff5252"/><rect x="392" y="518.5" width="1" height="24.6" fill="#ff5252"/><rect x="393" y="518.5" width="1" height="35.6" fill="#ff5252"/><rect x="394" y="518.5" width="1" height="40.0" fill="#ff5252"/><rect x="395" y="518.5" width="1" height="34.9" fill="#ffcdd2"/><rect x="396" y="518.5" width="1" height="28.9" fill="#ff5252"/><rect x="397" y="518.5" width="1" height="22.9" fill="#ffcdd2"/><rect x="398" y="518.5" width="1" height="17.5" fill="#ffcdd2"/><rect x="399" y="518.5" width="1" height="12.6" fill="#ffcdd2"/><rect x="400" y="518.5" width="1" height="8.0" fill="#ffcdd2"/><rect x="401" y="518.5" width="1" height="4.1" fill="#ffcdd2"/><rect x="402" y="518.5" width="1" height="1.4" fill="#ffcdd2"/><rect x="404" y="518.5" width="1" height="3.5" fill="#ff5252"/><rect x="405" y="518.5" width="1" height="7.1" fill="#ff5252"/><rect x="406" y="518.5" width="1" height="9.1" fill="#ff5252"/><rect x="407" y="518.5" width="1" height="11.0" fill="#ff5252"/><rect x="409" y="516.5" width="1" height="2.0" fill="#b2dfdb"/><rect x="410" y="514.4" width="1" height="4.1" fill="#26a69a"/><rect x="411" y="515.8" width="1" height="2.7" fill="#b2dfdb"/><rect x="412" y="518.0" width="1" height="0.5" fill="#b2dfdb"/><rect x="413" y="518.5" width="1" height="17.6" fill="#ff5252"/><rect x="414" y="518.5" width="1" height="20.6" fill="#ff5252"/><rect x="415" y="518.5" width="1" height="16.4" fill="#ffcdd2"/><rect x="416" y="518.5" width="1" height="12.2" fill="#ffcdd2"/><rect x="417" y="518.5" width="1" height="13.4" fill="#ff5252"/><rect x="418" y="518.5" width="1" height="9.6" fill="#ffcdd2"/><rect x="419" y="518.5" width="1" height="0.6" fill="#ffcdd2"/><rect x="420" y="514.2" width="1" height="4.3" fill="#26a69a"/><rect x="421" y="508.7" width="1" height="9.8" fill="#26a69a"/><rect x="422" y="510.4" width="1" height="8.1" fill="#b2dfdb"/><rect x="423" y="511.3" width="1" height="7.2" fill="#b2dfdb"/><rect x="424" y="510.0" width="1" height="8.5" fill="#26a69a"/><rect x="425" y="509.9" width="1" height="8.6" fill="#26a69a"/><rect x="426" y="511.9" width="1" height="6.6" fill="#b2dfdb"/><rect x="427" y="512.5" width="1" height="6.0" fill="#b2dfdb"/><rect x="428" y="511.9" width="1" height="6.6" fill="#26a69a"/><rect x="429" y="510.4" width="1" height="8.1" fill="#26a69a"/><rect x="430" y="508.4" width="1" height="10.1" fill="#26a69a"/><rect x="431" y="506.6" width="1" height="11.9" fill="#26a69a"/><rect x="432" y="505.8" width="1" height="12.7" fill="#26a69a"/><rect x="433" y="507.3" width="1" height="11.2" fill="#b2dfdb"/><rect x="434" y="508.5" width="1" height="10.0" fill="#b2dfdb"/><rect x="435" y="509.5" width="1" height="9.0" fill="#b2dfdb"/><rect x="436" y="510.2" width="1" height="8.2" fill="#b2dfdb"/><rect x="437" y="510.9" width="1" height="7.6" fill="#b2dfdb"/><rect x="438" y="513.2" width="1" height="5.3" fill="#26a69a"/><rect x="439" y="513.2" width="1" height="5.3" fill="#26a69a"/><rect x="440" y="511.2" width="1" height="7.3" fill="#26a69a"/><rect x="441" y="508.5" width="1" height="10.0" fill="#26a69a"/><rect x="442" y="509.4" width="1" height="9.1" fill="#b2dfdb"/><rect x="443" y="505.4" width="1" height="13.1" fill="#b2dfdb"/><rect x="444" y="497.5" width="1" height="21.0" fill="#26a69a"/><rect x="445" y="491.0" width="1" height="27.5" fill="#b2dfdb"/><rect x="446" y="493.1" width="1" height="25.4" fill="#b2dfdb"/><rect x="447" y="494.6" width="1" height="23.9" fill="#b2dfdb"/><rect x="448" y="495.6" width="1" height="22.9" fill="#b2dfdb"/><rect x="449" y="499.4" width="1" height="19.1" fill="#b2dfdb"/><rect x="450" y="504.4" width="1" height="14.1" fill="#b2dfdb"/><rect x="451" y="508.4" width="1" height="10.1" fill="#b2dfdb"/><rect x="452" y="512.2" width="1" height="6.3" fill="#b2dfdb"/><rect x="453" y="515.9" width="1" height="2.6" fill="#b2dfdb"/><rect x="455" y="518.5" width="1" height="1.1" fill="#ff5252"/><rect x="456" y="518.5" width="1" height="2.3" fill="#ff5252"/><rect x="457" y="518.5" width="1" height="5.6" fill="#ff5252"/><rect x="458" y="518.5" width="1" height="9.0" fill="#ff5252"/><rect x="459" y="518.5" width="1" height="12.7" fill="#ffcdd2"/><rect x="460" y="518.5" width="1" height="15.4" fill="#ff5252"/><rect x="461" y="518.5" width="1" height="16.1" fill="#ff5252"/><rect x="462" y="518.5" width="1" height="14.6" fill="#ffcdd2"/><rect x="463" y="518.5" width="1" height="13.8" fill="#ffcdd2"/><rect x="464" y="518.5" width="1" height="13.1" fill="#ffcdd2"/><rect x="465" y="518.5" width="1" height="13.8" fill="#ff5252"/><rect x="466" y="518.5" width="1" height="14.4" fill="#ff5252"/><rect x="467" y="518.5" width="1" height="14.4" fill="#ff5252"/><rect x="468" y="518.5" width="1" height="13.6" fill="#ffcdd2"/><rect x="469" y="518.5" width="1" height="10.6" fill="#ffcdd2"/><rect x="470" y="518.5" width="1" height="8.0" fill="#ffcdd2"/><rect x="471" y="518.5" width="1" height="5.3" fill="#ffcdd2"/><rect x="472" y="518.5" width="1" height="2.6" fill="#ffcdd2"/><rect x="474" y="515.3" width="1" height="3.2" fill="#26a69a"/><rect x="475" y="514.9" width="1" height="3.6" fill="#26a69a"/><rect x="476" y="514.5" width="1" height="4.0" fill="#26a69a"/><rect x="477" y="514.2" width="1" height="4.3" fill="#26a69a"/><rect x="478" y="514.1" width="1" height="4.4" fill="#26a69a"/><rect x="479" y="514.1" width="1" height="4.4" fill="#26a69a"/><rect x="480" y="518.5" width="1" height="1.2" fill="#ff5252"/><rect x="481" y="518.5" width="1" height="4.9" fill="#ffcdd2"/><rect x="482" y="518.5" width="1" height="4.4" fill="#ffcdd2"/><rect x="483" y="518.5" width="1" height="1.8" fill="#ffcdd2"/><rect x="484" y="515.7" width="1" height="2.8" fill="#26a69a"/><rect x="485" y="514.4" width="1" height="4.1" fill="#26a69a"/><rect x="486" y="512.1" width="1" height="6.4" fill="#26a69a"/><rect x="487" y="509.5" width="1" height="9.0" fill="#26a69a"/><rect x="488" y="507.4" width="1" height="11.1" fill="#26a69a"/><rect x="489" y="505.4" width="1" height="13.1" fill="#b2dfdb"/><rect x="490" y="504.7" width="1" height="13.8" fill="#26a69a"/><rect x="491" y="504.1" width="1" height="14.4" fill="#26a69a"/><rect x="492" y="503.5" width="1" height="15.0" fill="#26a69a"/><rect x="493" y="502.9" width="1" height="15.6" fill="#26a69a"/><rect x="494" y="504.4" width="1" height="14.1" fill="#b2dfdb"/><rect x="495" y="507.6" width="1" height="10.9" fill="#b2dfdb"/><rect x="496" y="513.1" width="1" height="5.4" fill="#b2dfdb"/><rect x="497" y="514.8" width="1" height="3.8" fill="#b2dfdb"/><rect x="498" y="516.3" width="1" height="2.2" fill="#b2dfdb"/><rect x="499" y="517.6" width="1" height="0.9" fill="#b2dfdb"/><rect x="500" y="518.5" width="1" height="1.4" fill="#ff5252"/><rect x="501" y="518.5" width="1" height="3.4" fill="#ff5252"/><rect x="502" y="518.5" width="1" height="5.4" fill="#ff5252"/><rect x="503" y="518.5" width="1" height="7.4" fill="#ff5252"/><rect x="504" y="518.5" width="1" height="9.8" fill="#ff5252"/><rect x="505" y="518.5" width="1" height="12.5" fill="#ff5252"/><rect x="506" y="518.5" width="1" height="15.0" fill="#ff5252"/><rect x="507" y="518.5" width="1" height="14.5" fill="#ff5252"/><rect x="508" y="518.5" width="1" height="10.4" fill="#ffcdd2"/><rect x="509" y="518.5" width="1" height="4.4" fill="#ffcdd2"/><rect x="510" y="518.5" width="1" height="1.4" fill="#ffcdd2"/><rect x="511" y="515.9" width="1" height="2.6" fill="#26a69a"/><rect x="512" y="514.7" width="1" height="3.8" fill="#26a69a"/><rect x="513" y="514.8" width="1" height="3.8" fill="#b2dfdb"/><rect x="514" y="516.0" width="1" height="2.5" fill="#26a69a"/><rect x="515" y="515.3" width="1" height="3.2" fill="#26a69a"/><rect x="516" y="514.7" width="1" height="3.8" fill="#26a69a"/><rect x="517" y="514.0" width="1" height="4.5" fill="#26a69a"/><rect x="518" y="513.2" width="1" height="5.3" fill="#26a69a"/><rect x="519" y="511.9" width="1" height="6.6" fill="#26a69a"/><rect x="520" y="509.3" width="1" height="9.2" fill="#26a69a"/><rect x="521" y="506.9" width="1" height="11.6" fill="#26a69a"/><rect x="522" y="508.9" width="1" height="9.6" fill="#b2dfdb"/><rect x="523" y="512.6" width="1" height="5.9" fill="#b2dfdb"/><rect x="524" y="515.4" width="1" height="3.1" fill="#b2dfdb"/><rect x="525" y="517.4" width="1" height="1.1" fill="#b2dfdb"/><rect x="526" y="518.5" width="1" height="0.9" fill="#ff5252"/><rect x="527" y="518.5" width="1" height="1.0" fill="#ff5252"/><rect x="528" y="518.5" width="1" height="1.1" fill="#ff5252"/><rect x="529" y="518.5" width="1" height="1.2" fill="#ff5252"/><rect x="530" y="518.5" width="1" height="1.1" fill="#ffcdd2"/><rect x="531" y="518.5" width="1" height="0.9" fill="#ffcdd2"/><rect x="532" y="518.0" width="1" height="0.5" fill="#26a69a"/><rect x="533" y="515.5" width="1" height="3.0" fill="#26a69a"/><rect x="534" y="513.5" width="1" height="5.0" fill="#26a69a"/><rect x="535" y="514.0" width="1" height="4.5" fill="#b2dfdb"/><rect x="536" y="513.2" width="1" height="5.3" fill="#26a69a"/><rect x="537" y="512.5" width="1" height="6.0" fill="#26a69a"/><rect x="538" y="513.7" width="1" height="4.8" fill="#b2dfdb"/><rect x="539" y="514.3" width="1" height="4.2" fill="#b2dfdb"/><rect x="540" y="514.7" width="1" height="3.8" fill="#b2dfdb"/><rect x="541" y="512.9" width="1" height="5.6" fill="#26a69a"/><rect x="542" y="510.6" width="1" height="7.9" fill="#26a69a"/><rect x="543" y="508.6" width="1" height="9.9" fill="#26a69a"/><rect x="544" y="507.0" width="1" height="11.5" fill="#26a69a"/><rect x="545" y="505.7" width="1" height="12.8" fill="#26a69a"/><rect x="546" y="505.1" width="1" height="13.4" fill="#26a69a"/><rect x="547" y="504.8" width="1" height="13.7" fill="#b2dfdb"/><rect x="548" y="505.0" width="1" height="13.5" fill="#b2dfdb"/><rect x="549" y="505.4" width="1" height="13.1" fill="#b2dfdb"/><rect x="550" y="507.4" width="1" height="11.1" fill="#b2dfdb"/><rect x="551" y="515.4" width="1" height="3.1" fill="#b2dfdb"/><rect x="552" y="518.5" width="1" height="1.6" fill="#ff5252"/><rect x="553" y="518.5" width="1" height="4.6" fill="#ff5252"/><rect x="554" y="518.5" width="1" height="5.6" fill="#ffcdd2"/><rect x="555" y="518.5" width="1" height="6.2" fill="#ff5252"/><rect x="556" y="518.5" width="1" height="6.2" fill="#ff5252"/><rect x="557" y="518.5" width="1" height="6.4" fill="#ff5252"/><rect x="558" y="518.5" width="1" height="6.8" fill="#ff5252"/><rect x="559" y="518.5" width="1" height="6.5" fill="#ff5252"/><rect x="560" y="518.5" width="1" height="5.8" fill="#ffcdd2"/><rect x="561" y="518.5" width="1" height="5.1" fill="#ffcdd2"/><rect x="562" y="518.5" width="1" height="4.5" fill="#ffcdd2"/><rect x="563" y="516.8" width="1" height="1.8" fill="#26a69a"/><rect x="564" y="515.8" width="1" height="2.8" fill="#26a69a"/><rect x="565" y="514.8" width="1" height="3.8" fill="#b2dfdb"/><rect x="566" y="514.2" width="1" height="4.2" fill="#b2dfdb"/><rect x="567" y="513.8" width="1" height="4.8" fill="#b2dfdb"/><rect x="568" y="514.2" width="1" height="4.3" fill="#b2dfdb"/><rect x="569" y="515.5" width="1" height="3.0" fill="#b2dfdb"/><rect x="570" y="517.2" width="1" height="1.2" fill="#b2dfdb"/><rect x="572" y="518.5" width="1" height="1.0" fill="#ff5252"/><rect x="573" y="518.5" width="1" height="1.5" fill="#ff5252"/><rect x="574" y="518.5" width="1" height="2.0" fill="#ff5252"/><rect x="575" y="518.5" width="1" height="2.5" fill="#ff5252"/><rect x="576" y="518.5" width="1" height="3.0" fill="#ff5252"/><rect x="577" y="518.5" width="1" height="3.9" fill="#ffcdd2"/><rect x="578" y="518.5" width="1" height="4.9" fill="#ffcdd2"/><rect x="579" y="518.5" width="1" height="2.8" fill="#ffcdd2"/><rect x="580" y="518.5" width="1" height="0.9" fill="#ffcdd2"/><rect x="581" y="516.6" width="1" height="1.9" fill="#26a69a"/><rect x="582" y="511.4" width="1" height="7.1" fill="#26a69a"/><rect x="583" y="506.0" width="1" height="12.5" fill="#26a69a"/><rect x="584" y="504.8" width="1" height="13.7" fill="#26a69a"/><rect x="585" y="504.1" width="1" height="14.4" fill="#26a69a"/><rect x="586" y="508.1" width="1" height="10.4" fill="#b2dfdb"/><rect x="587" y="511.4" width="1" height="7.1" fill="#26a69a"/><rect x="588" y="509.4" width="1" height="9.1" fill="#26a69a"/><rect x="589" y="507.7" width="1" height="10.8" fill="#26a69a"/><rect x="590" y="507.0" width="1" height="11.5" fill="#26a69a"/><rect x="591" y="506.1" width="1" height="12.4" fill="#26a69a"/><rect x="592" y="504.8" width="1" height="13.7" fill="#26a69a"/><rect x="593" y="503.1" width="1" height="15.4" fill="#26a69a"/><rect x="594" y="501.1" width="1" height="17.4" fill="#26a69a"/><rect x="595" y="500.0" width="1" height="18.5" fill="#26a69a"/><rect x="596" y="499.3" width="1" height="19.2" fill="#26a69a"/><rect x="597" y="500.4" width="1" height="18.1" fill="#26a69a"/><rect x="598" y="502.0" width="1" height="16.5" fill="#b2dfdb"/><rect x="599" y="503.6" width="1" height="14.9" fill="#b2dfdb"/><rect x="600" y="505.4" width="1" height="13.1" fill="#b2dfdb"/><rect x="601" y="505.9" width="1" height="12.6" fill="#b2dfdb"/><rect x="602" y="503.9" width="1" height="14.6" fill="#26a69a"/><rect x="603" y="502.7" width="1" height="15.8" fill="#26a69a"/><rect x="604" y="502.4" width="1" height="16.1" fill="#26a69a"/><rect x="605" y="503.8" width="1" height="14.7" fill="#b2dfdb"/><rect x="606" y="510.7" width="1" height="7.8" fill="#b2dfdb"/><rect x="608" y="518.5" width="1" height="12.4" fill="#ff5252"/><rect x="609" y="518.5" width="1" height="14.7" fill="#ff5252"/><rect x="610" y="518.5" width="1" height="15.0" fill="#ff5252"/><rect x="611" y="518.5" width="1" height="16.3" fill="#ff5252"/><rect x="612" y="518.5" width="1" height="17.9" fill="#ff5252"/><rect x="613" y="518.5" width="1" height="21.4" fill="#ff5252"/><rect x="614" y="518.5" width="1" height="25.4" fill="#ff5252"/><rect x="615" y="518.5" width="1" height="29.4" fill="#ff5252"/><rect x="616" y="518.5" width="1" height="33.0" fill="#ff5252"/><rect x="617" y="518.5" width="1" height="34.8" fill="#ff5252"/><rect x="618" y="518.5" width="1" height="27.8" fill="#ffcdd2"/><rect x="619" y="518.5" width="1" height="23.4" fill="#ffcdd2"/><rect x="620" y="518.5" width="1" height="20.2" fill="#ffcdd2"/><rect x="621" y="518.5" width="1" height="17.5" fill="#ff5252"/><rect x="622" y="518.5" width="1" height="14.9" fill="#ffcdd2"/><rect x="623" y="518.5" width="1" height="12.2" fill="#ffcdd2"/><rect x="624" y="518.5" width="1" height="9.5" fill="#ff5252"/><rect x="625" y="518.5" width="1" height="6.9" fill="#ffcdd2"/><rect x="626" y="518.5" width="1" height="2.9" fill="#ffcdd2"/><rect x="627" y="517.6" width="1" height="0.9" fill="#26a69a"/><rect x="628" y="511.2" width="1" height="7.3" fill="#26a69a"/><rect x="629" y="501.6" width="1" height="16.9" fill="#26a69a"/><rect x="630" y="507.9" width="1" height="10.6" fill="#b2dfdb"/><rect x="631" y="512.9" width="1" height="5.6" fill="#b2dfdb"/><rect x="632" y="517.3" width="1" height="1.2" fill="#b2dfdb"/><rect x="633" y="518.5" width="1" height="1.6" fill="#ff5252"/><rect x="634" y="518.5" width="1" height="3.6" fill="#ff5252"/><rect x="635" y="518.5" width="1" height="4.7" fill="#ff5252"/><rect x="636" y="518.5" width="1" height="3.7" fill="#ffcdd2"/><rect x="638" y="514.8" width="1" height="3.7" fill="#26a69a"/><rect x="639" y="516.2" width="1" height="2.3" fill="#b2dfdb"/><rect x="640" y="518.5" width="1" height="0.6" fill="#ff5252"/><rect x="641" y="518.5" width="1" height="1.3" fill="#ffcdd2"/><rect x="642" y="518.5" width="1" height="1.8" fill="#ff5252"/><rect x="643" y="518.5" width="1" height="1.5" fill="#ffcdd2"/><rect x="644" y="518.5" width="1" height="1.5" fill="#ff5252"/><rect x="645" y="518.5" width="1" height="2.5" fill="#ff5252"/><rect x="646" y="518.5" width="1" height="4.1" fill="#ffcdd2"/><rect x="647" y="518.5" width="1" height="6.8" fill="#ff5252"/><rect x="648" y="518.5" width="1" height="6.9" fill="#ff5252"/><rect x="649" y="518.5" width="1" height="4.4" fill="#ff5252"/><rect x="650" y="518.5" width="1" height="1.9" fill="#ffcdd2"/><rect x="651" y="518.5" width="1" height="6.9" fill="#ff5252"/><rect x="652" y="518.5" width="1" height="9.6" fill="#ff5252"/><rect x="653" y="518.5" width="1" height="11.6" fill="#ff5252"/><rect x="654" y="518.5" width="1" height="12.8" fill="#ff5252"/><rect x="655" y="518.5" width="1" height="11.9" fill="#ffcdd2"/><rect x="656" y="518.5" width="1" height="9.3" fill="#ffcdd2"/><rect x="657" y="518.5" width="1" height="5.8" fill="#ffcdd2"/><rect x="658" y="518.5" width="1" height="2.4" fill="#ffcdd2"/><rect x="659" y="516.6" width="1" height="1.9" fill="#b2dfdb"/><rect x="660" y="514.1" width="1" height="4.4" fill="#26a69a"/><rect x="661" y="512.1" width="1" height="6.4" fill="#26a69a"/><rect x="662" y="510.3" width="1" height="8.2" fill="#b2dfdb"/><rect x="663" y="509.6" width="1" height="8.9" fill="#26a69a"/><rect x="664" y="509.1" width="1" height="9.4" fill="#26a69a"/><rect x="665" y="509.0" width="1" height="9.5" fill="#26a69a"/><rect x="666" y="509.1" width="1" height="9.4" fill="#b2dfdb"/><rect x="667" y="509.5" width="1" height="9.0" fill="#b2dfdb"/><rect x="668" y="511.0" width="1" height="7.5" fill="#b2dfdb"/><rect x="669" y="513.1" width="1" height="5.4" fill="#26a69a"/><rect x="670" y="514.1" width="1" height="4.4" fill="#b2dfdb"/><rect x="671" y="515.0" width="1" height="3.5" fill="#b2dfdb"/><rect x="672" y="515.7" width="1" height="2.8" fill="#b2dfdb"/><rect x="673" y="515.2" width="1" height="3.3" fill="#26a69a"/><rect x="674" y="513.7" width="1" height="4.8" fill="#26a69a"/><rect x="675" y="515.0" width="1" height="3.5" fill="#b2dfdb"/><rect x="676" y="516.1" width="1" height="2.4" fill="#b2dfdb"/><rect x="677" y="516.5" width="1" height="2.0" fill="#b2dfdb"/><rect x="678" y="517.0" width="1" height="1.5" fill="#b2dfdb"/><rect x="679" y="517.6" width="1" height="0.9" fill="#b2dfdb"/><rect x="680" y="518.5" width="1" height="0.9" fill="#ff5252"/><rect x="681" y="518.5" width="1" height="2.2" fill="#ffcdd2"/><rect x="682" y="518.5" width="1" height="1.8" fill="#ffcdd2"/><rect x="683" y="518.5" width="1" height="0.8" fill="#ff5252"/><rect x="684" y="516.5" width="1" height="2.0" fill="#26a69a"/><rect x="685" y="515.0" width="1" height="3.5" fill="#26a69a"/><rect x="686" y="513.8" width="1" height="4.8" fill="#26a69a"/><rect x="687" y="512.8" width="1" height="5.8" fill="#26a69a"/><rect x="688" y="512.1" width="1" height="6.4" fill="#26a69a"/><rect x="689" y="511.9" width="1" height="6.6" fill="#b2dfdb"/><rect x="690" y="511.6" width="1" height="6.9" fill="#26a69a"/><rect x="691" y="511.4" width="1" height="7.1" fill="#26a69a"/><rect x="692" y="511.1" width="1" height="7.4" fill="#b2dfdb"/><rect x="693" y="511.5" width="1" height="7.0" fill="#b2dfdb"/><rect x="694" y="512.5" width="1" height="6.0" fill="#b2dfdb"/><rect x="695" y="514.4" width="1" height="4.1" fill="#b2dfdb"/><rect x="696" y="516.8" width="1" height="1.8" fill="#b2dfdb"/><rect x="698" y="518.5" width="1" height="0.6" fill="#ff5252"/><rect x="699" y="518.5" width="1" height="1.0" fill="#ff5252"/><rect x="700" y="518.5" width="1" height="1.4" fill="#ff5252"/><rect x="701" y="518.5" width="1" height="1.8" fill="#ff5252"/><rect x="702" y="518.5" width="1" height="2.7" fill="#ff5252"/><rect x="703" y="518.5" width="1" height="3.8" fill="#ff5252"/><rect x="704" y="518.5" width="1" height="3.3" fill="#ffcdd2"/><rect x="705" y="518.5" width="1" height="1.2" fill="#ff5252"/><rect x="707" y="516.5" width="1" height="2.0" fill="#26a69a"/><rect x="708" y="515.3" width="1" height="3.2" fill="#26a69a"/><rect x="709" y="515.9" width="1" height="2.6" fill="#26a69a"/><rect x="710" y="515.6" width="1" height="2.9" fill="#26a69a"/><rect x="711" y="515.4" width="1" height="3.1" fill="#26a69a"/><rect x="712" y="514.6" width="1" height="3.9" fill="#26a69a"/><rect x="713" y="513.9" width="1" height="4.6" fill="#26a69a"/><rect x="714" y="513.0" width="1" height="5.5" fill="#26a69a"/><rect x="715" y="512.0" width="1" height="6.5" fill="#26a69a"/><rect x="716" y="511.0" width="1" height="7.5" fill="#26a69a"/><rect x="717" y="510.0" width="1" height="8.5" fill="#26a69a"/><rect x="718" y="510.8" width="1" height="7.8" fill="#b2dfdb"/><rect x="719" y="512.1" width="1" height="6.4" fill="#b2dfdb"/><rect x="720" y="513.1" width="1" height="5.4" fill="#b2dfdb"/><rect x="721" y="514.1" width="1" height="4.4" fill="#b2dfdb"/><rect x="722" y="515.1" width="1" height="3.4" fill="#b2dfdb"/><rect x="723" y="516.1" width="1" height="2.4" fill="#b2dfdb"/><rect x="724" y="517.1" width="1" height="1.4" fill="#26a69a"/><rect x="726" y="518.5" width="1" height="1.0" fill="#ff5252"/><rect x="727" y="518.5" width="1" height="1.1" fill="#ff5252"/><rect x="728" y="518.5" width="1" height="0.6" fill="#ffcdd2"/><rect x="729" y="512.8" width="1" height="5.7" fill="#26a69a"/><rect x="730" y="510.1" width="1" height="8.4" fill="#26a69a"/><rect x="731" y="508.2" width="1" height="10.3" fill="#26a69a"/><rect x="732" y="506.6" width="1" height="11.9" fill="#26a69a"/><rect x="733" y="509.9" width="1" height="8.6" fill="#b2dfdb"/><rect x="734" y="515.9" width="1" height="2.6" fill="#b2dfdb"/><rect x="736" y="518.5" width="1" height="0.6" fill="#ff5252"/><rect x="737" y="518.5" width="1" height="1.3" fill="#ff5252"/><rect x="738" y="518.5" width="1" height="1.8" fill="#ff5252"/><rect x="739" y="518.5" width="1" height="1.5" fill="#ffcdd2"/><rect x="740" y="518.5" width="1" height="1.5" fill="#ffcdd2"/><rect x="741" y="518.5" width="1" height="2.5" fill="#ffcdd2"/><rect x="742" y="518.5" width="1" height="2.8" fill="#ff5252"/><rect x="743" y="518.5" width="1" height="1.8" fill="#ffcdd2"/><rect x="744" y="518.5" width="1" height="1.8" fill="#ff5252"/><rect x="745" y="518.5" width="1" height="2.8" fill="#ffcdd2"/><rect x="746" y="518.5" width="1" height="5.3" fill="#ff5252"/><rect x="747" y="518.5" width="1" height="7.1" fill="#ffcdd2"/><rect x="748" y="518.5" width="1" height="6.1" fill="#ff5252"/><rect x="749" y="518.5" width="1" height="5.1" fill="#ffcdd2"/><rect x="750" y="518.5" width="1" height="4.2" fill="#ffcdd2"/><rect x="751" y="518.5" width="1" height="3.5" fill="#ffcdd2"/><rect x="752" y="518.5" width="1" height="2.5" fill="#ffcdd2"/><rect x="753" y="518.5" width="1" height="0.8" fill="#ffcdd2"/><rect x="754" y="516.5" width="1" height="2.0" fill="#26a69a"/><rect x="755" y="515.1" width="1" height="3.4" fill="#26a69a"/><rect x="756" y="516.0" width="1" height="2.5" fill="#b2dfdb"/><rect x="757" y="518.0" width="1" height="0.5" fill="#b2dfdb"/><rect x="758" y="518.5" width="1" height="0.7" fill="#ffcdd2"/><rect x="759" y="518.5" width="1" height="1.4" fill="#ffcdd2"/><rect x="760" y="518.5" width="1" height="2.1" fill="#ff5252"/><rect x="761" y="518.5" width="1" height="3.1" fill="#ff5252"/><rect x="762" y="518.5" width="1" height="4.1" fill="#ff5252"/><rect x="763" y="518.5" width="1" height="5.1" fill="#ff5252"/><rect x="764" y="518.5" width="1" height="5.1" fill="#ff5252"/><rect x="765" y="518.5" width="1" height="3.6" fill="#ffcdd2"/><rect x="766" y="518.5" width="1" height="0.6" fill="#ffcdd2"/><rect x="767" y="517.8" width="1" height="0.8" fill="#26a69a"/><rect x="768" y="516.2" width="1" height="2.2" fill="#26a69a"/><rect x="769" y="514.9" width="1" height="3.6" fill="#26a69a"/><rect x="770" y="513.6" width="1" height="4.9" fill="#26a69a"/><rect x="771" y="512.2" width="1" height="6.2" fill="#26a69a"/><rect x="772" y="511.8" width="1" height="6.8" fill="#26a69a"/><rect x="773" y="512.4" width="1" height="6.1" fill="#b2dfdb"/><rect x="774" y="513.5" width="1" height="5.0" fill="#b2dfdb"/><rect x="775" y="514.9" width="1" height="3.6" fill="#b2dfdb"/><rect x="776" y="515.6" width="1" height="2.9" fill="#26a69a"/><rect x="777" y="515.9" width="1" height="2.6" fill="#b2dfdb"/><rect x="778" y="514.9" width="1" height="3.6" fill="#b2dfdb"/><rect x="779" y="512.6" width="1" height="5.9" fill="#b2dfdb"/><rect x="780" y="510.3" width="1" height="8.2" fill="#26a69a"/><rect x="781" y="510.0" width="1" height="8.5" fill="#26a69a"/><rect x="782" y="509.6" width="1" height="8.9" fill="#26a69a"/><rect x="783" y="509.3" width="1" height="9.2" fill="#26a69a"/><rect x="784" y="509.3" width="1" height="9.2" fill="#26a69a"/><rect x="785" y="509.6" width="1" height="8.9" fill="#26a69a"/><rect x="786" y="509.8" width="1" height="8.8" fill="#b2dfdb"/><rect x="787" y="509.8" width="1" height="8.8" fill="#26a69a"/><rect x="788" y="511.6" width="1" height="6.9" fill="#26a69a"/><rect x="789" y="514.4" width="1" height="4.1" fill="#b2dfdb"/><rect x="790" y="517.0" width="1" height="1.5" fill="#b2dfdb"/><rect x="792" y="518.5" width="1" height="1.4" fill="#ff5252"/><rect x="793" y="518.5" width="1" height="3.4" fill="#ff5252"/><rect x="794" y="518.5" width="1" height="5.4" fill="#ff5252"/><rect x="795" y="518.5" width="1" height="7.4" fill="#ff5252"/><rect x="796" y="518.5" width="1" height="9.1" fill="#ff5252"/><rect x="797" y="518.5" width="1" height="10.6" fill="#ffcdd2"/><rect x="798" y="518.5" width="1" height="8.5" fill="#ffcdd2"/><rect x="799" y="518.5" width="1" height="6.7" fill="#ffcdd2"/><rect x="800" y="518.5" width="1" height="5.0" fill="#ffcdd2"/><rect x="801" y="518.5" width="1" height="3.1" fill="#ffcdd2"/><rect x="802" y="518.5" width="1" height="1.1" fill="#ffcdd2"/><rect x="803" y="516.1" width="1" height="2.4" fill="#26a69a"/><rect x="804" y="514.8" width="1" height="3.7" fill="#26a69a"/><rect x="805" y="513.3" width="1" height="5.2" fill="#26a69a"/><rect x="806" y="511.6" width="1" height="6.9" fill="#26a69a"/><rect x="807" y="510.3" width="1" height="8.2" fill="#26a69a"/><rect x="808" y="509.1" width="1" height="9.4" fill="#26a69a"/><rect x="809" y="511.6" width="1" height="6.9" fill="#b2dfdb"/><rect x="810" y="513.5" width="1" height="5.0" fill="#b2dfdb"/><rect x="811" y="515.0" width="1" height="3.5" fill="#b2dfdb"/><rect x="812" y="516.0" width="1" height="2.5" fill="#b2dfdb"/><rect x="813" y="512.5" width="1" height="6.0" fill="#26a69a"/><rect x="814" y="510.2" width="1" height="8.3" fill="#26a69a"/><rect x="815" y="512.0" width="1" height="6.5" fill="#b2dfdb"/><rect x="816" y="514.8" width="1" height="3.8" fill="#b2dfdb"/><rect x="817" y="517.2" width="1" height="1.2" fill="#b2dfdb"/><rect x="818" y="518.5" width="1" height="1.1" fill="#ff5252"/><rect x="819" y="518.5" width="1" height="3.3" fill="#ff5252"/><rect x="820" y="518.5" width="1" height="5.4" fill="#ff5252"/><rect x="821" y="518.5" width="1" height="7.5" fill="#ff5252"/><rect x="822" y="518.5" width="1" height="6.3" fill="#ffcdd2"/><rect x="823" y="518.5" width="1" height="5.2" fill="#ffcdd2"/><rect x="824" y="518.5" width="1" height="4.2" fill="#ffcdd2"/><rect x="825" y="518.5" width="1" height="3.4" fill="#ffcdd2"/><rect x="826" y="518.5" width="1" height="2.8" fill="#ff5252"/><rect x="827" y="518.5" width="1" height="1.9" fill="#ffcdd2"/><rect x="828" y="518.5" width="1" height="0.9" fill="#ffcdd2"/><rect x="830" y="516.5" width="1" height="2.0" fill="#26a69a"/><rect x="831" y="515.8" width="1" height="2.8" fill="#26a69a"/><rect x="832" y="517.2" width="1" height="1.2" fill="#b2dfdb"/><rect x="833" y="518.5" width="1" height="0.5" fill="#ffcdd2"/><rect x="834" y="518.5" width="1" height="1.5" fill="#ff5252"/><rect x="835" y="518.5" width="1" height="1.7" fill="#ff5252"/><rect x="836" y="518.5" width="1" height="1.4" fill="#ff5252"/><rect x="837" y="518.5" width="1" height="0.9" fill="#ff5252"/><rect x="838" y="518.5" width="1" height="0.8" fill="#ffcdd2"/><rect x="839" y="518.5" width="1" height="2.8" fill="#ff5252"/><rect x="840" y="518.5" width="1" height="5.3" fill="#ffcdd2"/><rect x="841" y="518.5" width="1" height="6.5" fill="#ff5252"/><rect x="842" y="518.5" width="1" height="7.5" fill="#ff5252"/><rect x="843" y="518.5" width="1" height="6.2" fill="#ffcdd2"/><rect x="844" y="518.5" width="1" height="4.8" fill="#ffcdd2"/><rect x="845" y="518.5" width="1" height="3.1" fill="#ffcdd2"/><rect x="846" y="518.5" width="1" height="1.4" fill="#ffcdd2"/><rect x="847" y="517.2" width="1" height="1.2" fill="#26a69a"/><rect x="848" y="516.6" width="1" height="1.9" fill="#26a69a"/><rect x="849" y="515.9" width="1" height="2.6" fill="#26a69a"/><rect x="850" y="515.2" width="1" height="3.3" fill="#26a69a"/><rect x="851" y="516.6" width="1" height="1.9" fill="#b2dfdb"/><rect x="853" y="518.5" width="1" height="2.7" fill="#ff5252"/><rect x="854" y="518.5" width="1" height="7.0" fill="#ff5252"/><rect x="855" y="518.5" width="1" height="7.9" fill="#ff5252"/><rect x="856" y="518.5" width="1" height="6.2" fill="#ffcdd2"/><rect x="857" y="518.5" width="1" height="5.0" fill="#ffcdd2"/><rect x="858" y="518.5" width="1" height="4.0" fill="#ffcdd2"/><rect x="859" y="518.5" width="1" height="3.0" fill="#ffcdd2"/><rect x="860" y="518.5" width="1" height="2.0" fill="#ffcdd2"/><rect x="861" y="518.5" width="1" height="1.1" fill="#ffcdd2"/><rect x="863" y="517.3" width="1" height="1.2" fill="#26a69a"/><rect x="864" y="516.4" width="1" height="2.1" fill="#26a69a"/><rect x="865" y="515.3" width="1" height="3.2" fill="#26a69a"/><rect x="866" y="514.0" width="1" height="4.5" fill="#26a69a"/><rect x="867" y="513.2" width="1" height="5.3" fill="#26a69a"/><rect x="868" y="513.4" width="1" height="5.1" fill="#b2dfdb"/><rect x="869" y="514.8" width="1" height="3.7" fill="#b2dfdb"/><rect x="870" y="515.5" width="1" height="3.0" fill="#b2dfdb"/><rect x="871" y="516.4" width="1" height="2.1" fill="#b2dfdb"/><rect x="872" y="517.9" width="1" height="0.6" fill="#b2dfdb"/><rect x="874" y="517.7" width="1" height="0.8" fill="#26a69a"/><rect x="875" y="516.6" width="1" height="1.9" fill="#26a69a"/><rect x="876" y="515.2" width="1" height="3.2" fill="#26a69a"/><rect x="877" y="514.1" width="1" height="4.4" fill="#26a69a"/><rect x="878" y="513.1" width="1" height="5.4" fill="#26a69a"/><rect x="879" y="514.9" width="1" height="3.6" fill="#b2dfdb"/><rect x="880" y="516.9" width="1" height="1.6" fill="#b2dfdb"/><rect x="881" y="518.5" width="1" height="0.7" fill="#ff5252"/><rect x="882" y="518.5" width="1" height="1.0" fill="#ffcdd2"/><rect x="883" y="518.5" width="1" height="1.3" fill="#ff5252"/><rect x="884" y="518.5" width="1" height="1.6" fill="#ffcdd2"/><rect x="885" y="518.5" width="1" height="1.7" fill="#ff5252"/><rect x="886" y="518.5" width="1" height="1.8" fill="#ff5252"/><rect x="887" y="518.5" width="1" height="1.8" fill="#ff5252"/><rect x="888" y="518.5" width="1" height="1.3" fill="#ff5252"/><rect x="890" y="516.9" width="1" height="1.6" fill="#26a69a"/><rect x="891" y="516.2" width="1" height="2.2" fill="#26a69a"/><rect x="892" y="515.7" width="1" height="2.8" fill="#b2dfdb"/><rect x="893" y="515.2" width="1" height="3.3" fill="#b2dfdb"/><rect x="894" y="515.5" width="1" height="3.0" fill="#b2dfdb"/><rect x="895" y="515.9" width="1" height="2.6" fill="#b2dfdb"/><rect x="896" y="515.1" width="1" height="3.4" fill="#26a69a"/><rect x="897" y="514.1" width="1" height="4.4" fill="#26a69a"/><rect x="898" y="514.7" width="1" height="3.8" fill="#b2dfdb"/><rect x="899" y="515.1" width="1" height="3.4" fill="#b2dfdb"/><rect x="900" y="515.4" width="1" height="3.1" fill="#b2dfdb"/><rect x="901" y="514.6" width="1" height="3.9" fill="#26a69a"/><rect x="902" y="514.0" width="1" height="4.5" fill="#26a69a"/><rect x="903" y="514.6" width="1" height="3.9" fill="#b2dfdb"/><rect x="904" y="515.0" width="1" height="3.5" fill="#b2dfdb"/><rect x="905" y="515.3" width="1" height="3.2" fill="#b2dfdb"/><rect x="906" y="516.0" width="1" height="2.5" fill="#b2dfdb"/><rect x="907" y="516.6" width="1" height="1.9" fill="#b2dfdb"/><rect x="908" y="517.5" width="1" height="1.0" fill="#b2dfdb"/><rect x="913" y="517.9" width="1" height="0.6" fill="#26a69a"/><rect x="914" y="517.0" width="1" height="1.5" fill="#26a69a"/><rect x="915" y="516.7" width="1" height="1.8" fill="#26a69a"/><rect x="916" y="516.2" width="1" height="2.3" fill="#b2dfdb"/><rect x="917" y="516.0" width="1" height="2.5" fill="#26a69a"/><rect x="918" y="516.6" width="1" height="1.9" fill="#b2dfdb"/>
<polyline points="123.0,422.0 125.0,447.0 127.0,469.0 130.0,487.0 134.0,509.0 137.0,533.0 139.0,553.0 141.4,562.0 144.0,555.0 148.0,551.0 152.0,549.0 154.0,537.0 157.0,527.0 160.0,522.0 162.0,525.0 164.0,533.0 166.0,551.0 168.0,563.0 170.0,566.0 172.0,561.0 174.0,547.0 176.0,535.0 178.0,521.0 180.0,511.0 183.0,505.0 185.0,509.0 188.0,512.0 191.0,503.0 194.0,489.0 196.4,485.0 199.0,490.0 202.0,501.0 205.0,511.0 208.0,520.0 211.0,526.0 214.0,523.0 217.0,529.0 220.0,541.0 223.0,550.0 227.0,557.0 232.0,561.0 235.0,559.0 238.0,552.0 240.0,561.0 242.0,565.0 245.0,559.0 248.0,546.0 251.0,540.0 254.0,527.0 256.0,517.0 258.6,512.0 261.0,515.0 264.0,525.0 267.0,531.0 271.0,535.0 273.0,525.0 275.0,515.0 278.0,505.0 281.0,489.0 284.0,471.0 287.0,460.0 289.0,458.0 291.0,463.0 294.0,481.0 297.0,499.0 299.0,509.0 302.0,513.0 304.0,518.0 307.0,511.0 310.0,501.0 313.0,491.0 315.0,488.0 317.0,495.0 320.0,505.0 322.0,508.0 324.0,481.0 326.0,459.0 328.0,441.0 329.0,433.0 331.0,422.0 333.0,400.0 339.0,380.0 345.0,422.0 347.0,457.0 349.0,487.0 352.0,503.0 355.0,505.0 358.6,521.0 361.0,501.0 364.0,477.0 366.6,464.0 370.0,471.0 372.0,489.0 374.0,507.0 377.0,514.0 380.0,501.0 383.0,485.0 385.6,479.0 388.6,485.0 390.0,507.0 391.4,533.0 393.0,561.0 395.0,579.0 397.0,587.0 400.0,579.0 402.0,578.0 404.6,589.0 408.0,587.0 410.0,585.0 412.0,591.0 416.0,600.0 422.0,606.0 427.0,600.0 430.0,591.0 433.0,579.0 436.0,573.0 439.0,571.0 441.0,561.0 443.0,541.0 445.0,521.0 447.0,507.0 449.0,498.0 451.0,501.0 453.0,511.0 456.0,523.0 459.0,537.0 462.0,551.0 465.0,565.0 468.0,574.0 470.0,576.0 472.0,573.0 475.0,565.0 478.0,561.0 480.0,568.0 482.6,573.0 485.0,567.0 488.0,551.0 491.0,535.0 494.0,523.0 497.0,527.0 500.0,537.0 503.0,549.0 506.0,563.0 507.4,567.0 509.0,559.0 512.0,553.0 515.0,549.0 518.0,541.0 521.0,529.0 524.0,534.0 527.0,537.0 531.0,538.0 535.0,531.0 539.0,525.0 542.0,517.0 545.0,505.0 548.0,497.0 549.6,495.4 552.0,505.0 555.0,515.0 558.0,523.0 561.0,524.0 563.0,520.0 567.0,514.0 570.0,516.0 573.0,522.0 576.0,525.0 579.0,530.0 582.0,517.0 585.0,503.0 588.0,497.0 591.0,487.0 594.0,469.0 597.0,451.0 600.0,443.0 602.6,431.0 605.0,422.0 607.0,433.0 609.0,453.0 611.0,463.0 613.0,481.0 615.0,507.0 617.0,529.0 619.0,541.0 622.0,549.0 625.0,555.0 627.0,545.0 629.0,523.0 631.0,531.0 634.0,537.0 636.0,541.0 638.6,532.0 641.0,539.0 644.0,541.0 647.0,549.0 650.0,559.0 653.0,573.0 656.0,580.0 658.6,575.0 661.0,567.0 664.0,557.0 667.0,547.0 670.0,549.0 673.0,545.0 676.0,544.0 679.0,545.0 682.0,549.0 685.0,545.0 688.0,537.0 691.0,530.0 694.0,526.0 697.0,531.0 700.0,535.0 704.0,540.0 707.0,536.0 711.0,533.0 714.0,523.0 717.0,517.0 720.0,514.0 723.0,514.0 726.0,517.0 729.0,505.0 731.0,496.0 732.6,493.4 735.0,499.0 738.0,504.0 741.0,506.0 744.0,511.0 747.0,519.0 750.0,524.0 753.0,525.0 755.4,518.0 758.0,521.0 761.0,529.0 764.0,535.0 767.0,531.0 770.0,525.0 773.0,521.0 776.0,517.0 779.0,509.0 782.0,501.0 785.0,493.0 787.6,489.0 790.0,493.0 793.0,501.0 796.0,515.0 797.0,515.0 800.0,519.0 803.0,511.0 806.0,500.0 809.0,496.0 812.0,497.0 815.0,488.0 817.0,495.0 820.0,506.0 823.0,511.0 827.0,514.0 830.0,510.0 833.0,512.0 836.0,517.0 839.0,525.0 842.0,532.0 845.0,534.0 848.0,530.0 851.0,530.0 854.0,541.0 857.0,545.0 859.4,547.4 862.0,545.0 865.0,539.0 868.0,536.0 871.0,535.0 874.0,537.0 877.0,531.0 880.0,533.0 883.0,536.0 886.0,538.0 888.6,539.0 891.0,536.0 894.0,533.0 897.0,530.0 900.0,528.0 903.0,525.0 906.0,524.6 909.0,526.0 912.0,525.4 915.0,524.6 917.0,523.4" fill="none" stroke="#2962ff" stroke-width="1.8" stroke-linejoin="round"/>
<polyline points="127.4,435.0 130.0,455.0 133.0,479.0 136.0,501.0 139.0,525.0 141.4,543.0 144.0,551.0 148.0,552.0 153.0,551.0 155.0,541.0 158.0,533.0 162.0,528.0 164.0,530.0 166.0,539.0 169.0,551.0 172.0,558.0 174.0,553.0 176.0,541.0 179.0,525.0 182.0,515.0 185.0,512.0 189.0,512.0 192.0,507.0 195.0,497.0 198.0,491.0 201.0,494.0 204.0,503.0 207.0,511.0 210.0,519.0 213.0,522.0 217.0,523.0 220.0,533.0 223.0,543.0 227.0,551.0 232.0,557.0 236.0,559.0 239.0,556.0 242.0,560.0 245.0,560.0 248.0,555.0 251.0,547.0 254.0,537.0 257.0,525.0 260.0,519.0 263.0,521.0 267.0,527.0 271.0,532.0 274.0,525.0 277.0,513.0 280.0,501.0 283.0,487.0 286.0,475.0 289.0,468.0 291.4,467.0 294.0,475.0 297.0,491.0 300.0,503.0 303.0,511.0 305.0,513.0 308.0,510.0 311.0,503.0 314.0,496.0 316.0,494.0 319.0,500.0 321.0,502.0 324.0,485.0 326.0,469.0 328.0,457.0 329.0,459.0 331.0,437.0 333.0,422.0 336.0,405.0 341.0,392.0 346.0,408.0 348.0,422.0 349.0,445.0 351.0,473.0 354.0,491.0 357.0,505.0 359.4,510.0 362.0,505.0 365.0,489.0 368.0,476.0 370.4,473.4 373.0,483.0 376.0,499.0 378.6,507.0 382.0,501.0 385.0,491.0 388.0,485.0 390.6,495.0 392.0,511.0 393.4,533.0 395.0,551.0 397.0,565.0 400.0,574.0 403.0,577.0 406.0,585.0 409.0,590.0 413.0,591.0 418.0,598.0 424.0,602.0 429.0,598.0 433.0,591.0 436.0,581.0 439.0,575.0 442.0,565.0 445.0,543.0 448.0,523.0 451.0,512.0 454.0,508.4 457.0,511.0 459.0,519.0 462.0,535.0 465.0,551.0 468.0,563.0 471.0,569.0 474.0,568.0 478.0,565.0 481.0,569.0 483.4,569.0 487.0,561.0 490.0,547.0 493.0,535.0 496.0,530.0 499.0,530.0 502.0,537.0 505.0,547.0 508.0,557.0 511.0,556.0 514.0,553.0 517.0,548.0 520.0,539.0 523.0,535.0 527.0,536.0 531.0,537.0 535.0,534.0 539.0,527.0 542.0,521.0 545.0,511.0 548.0,504.0 550.6,502.0 553.0,507.0 556.0,514.0 559.0,519.0 562.0,520.0 563.0,521.0 567.0,518.0 570.0,517.0 573.0,520.0 576.0,523.0 579.0,526.0 582.0,521.0 585.0,511.0 588.0,505.0 591.0,495.0 594.0,481.0 597.0,465.0 600.0,455.0 603.0,441.0 606.0,432.0 608.0,437.0 611.0,447.0 613.0,461.0 615.0,477.0 617.0,501.0 619.0,521.0 622.0,535.0 624.0,543.0 626.0,547.0 628.0,539.0 630.0,531.0 633.0,533.0 636.0,536.0 639.0,536.0 642.0,537.0 645.0,541.0 648.0,547.0 651.0,557.0 654.0,567.0 657.0,573.0 659.0,572.0 662.0,563.0 665.0,555.0 668.0,550.0 671.0,548.0 675.0,546.0 679.0,546.0 682.0,547.0 685.0,545.0 688.0,540.0 691.0,534.0 694.0,530.0 697.0,531.0 701.0,535.0 704.0,537.0 708.0,535.0 712.0,532.0 715.0,526.0 718.0,520.0 721.0,517.0 724.0,516.6 727.0,517.0 730.0,509.0 733.0,502.0 736.0,501.0 739.0,502.0 742.0,505.0 745.0,509.0 748.0,516.0 751.0,520.0 754.0,522.0 757.0,520.0 760.0,523.0 763.0,528.0 766.0,531.0 769.0,530.0 772.0,526.0 775.0,522.0 778.0,517.0 781.0,510.0 784.0,503.0 787.0,497.0 790.0,494.6 793.0,496.0 796.0,501.0 797.0,503.0 800.0,511.0 803.0,514.0 806.0,509.0 809.0,503.0 812.0,499.0 815.0,495.0 817.0,494.0 820.0,499.0 823.0,505.0 826.0,509.0 829.0,512.0 832.0,511.0 835.0,512.0 838.0,515.0 841.0,523.0 844.0,529.0 847.0,530.0 850.0,529.0 853.0,533.0 856.0,539.0 859.0,543.0 862.0,545.0 865.0,542.0 868.0,539.0 871.0,537.0 874.0,537.0 877.0,534.0 880.0,533.0 883.0,534.6 886.0,536.0 889.0,537.0 892.0,536.0 895.0,534.0 898.0,531.0 901.0,529.0 904.0,527.0 907.0,526.0 910.0,526.0 913.0,525.6 916.0,525.0 917.0,524.6" fill="none" stroke="#ff6d00" stroke-width="1.8" stroke-linejoin="round"/>
</g>
<g clip-path="url(#cpRsi)">
<rect x="16" y="634" width="1039" height="90" fill="#0d0815"/>
<polyline points="112.0,694.0 114.0,699.0 116.0,690.0 118.0,666.0 119.0,639.0 121.0,646.0 123.0,670.0 125.0,678.0 127.0,686.0 129.0,677.0 131.0,690.0 134.0,684.0 136.0,708.0 138.0,717.0 140.0,710.0 142.0,696.0 145.0,692.0 147.0,700.0 150.0,702.0 152.0,684.0 154.0,668.0 156.0,674.0 158.0,684.0 160.0,690.0 162.0,682.0 164.0,704.0 166.0,714.0 168.0,719.0 170.0,708.0 172.0,684.0 174.0,668.0 176.0,673.0 178.0,656.0 180.0,672.0 182.0,666.0 184.0,676.0 186.0,690.0 188.0,674.0 190.0,654.0 192.0,658.0 194.4,639.0 196.0,654.0 198.0,672.0 200.0,662.0 202.0,680.0 204.0,684.0 206.0,690.0 208.0,696.0 210.0,686.0 212.0,676.0 214.0,686.0 216.0,692.0 218.0,716.0 219.0,734.0 221.0,712.0 223.0,718.0 225.0,710.0 227.0,720.0 228.6,712.0 231.0,730.0 233.0,720.0 235.0,724.0 237.0,712.0 239.0,736.0 240.4,746.0 242.0,732.0 244.0,714.0 246.0,694.0 248.0,688.0 250.0,702.0 252.0,680.0 254.0,656.0 255.0,645.0 257.0,662.0 259.0,676.0 261.0,686.0 264.0,694.0 266.0,702.0 268.0,694.0 270.0,710.0 272.0,682.0 274.0,656.0 276.0,644.0 278.0,650.0 280.0,628.0 282.0,644.0 284.0,628.0 286.6,624.0 288.0,638.0 290.0,652.0 292.0,664.0 294.0,676.0 296.0,692.0 297.0,698.0 299.0,672.0 301.0,676.0 303.0,686.0 305.0,666.0 307.0,658.0 309.0,672.0 311.0,648.0 313.0,646.0 315.0,672.0 317.0,676.0 319.0,684.0 321.0,666.0 323.0,648.0 325.0,652.0 327.0,630.0 328.8,618.0 329.0,618.0 331.0,626.0 333.0,609.0 335.0,624.0 337.0,642.0 338.0,621.0 340.0,638.0 342.0,654.0 344.0,672.0 346.0,682.0 347.4,692.0 350.0,676.0 352.0,684.0 354.0,668.0 356.0,680.0 358.0,688.0 360.0,666.0 362.0,654.0 364.0,660.0 366.0,644.0 368.0,658.0 370.0,680.0 372.0,696.0 374.0,688.0 376.0,676.0 378.0,664.0 380.0,658.0 382.4,644.0 385.0,656.0 387.0,668.0 388.6,660.0 390.0,692.0 391.4,712.0 393.0,720.0 395.0,704.0 397.0,716.0 398.6,694.0 401.0,700.0 403.0,716.0 405.0,702.0 407.0,718.0 409.4,693.0 411.0,720.0 412.6,743.0 414.6,720.0 416.6,710.0 418.6,718.0 420.6,702.0 422.6,716.0 424.6,706.0 426.6,714.0 428.6,708.0 431.0,705.0 433.0,712.0 435.0,708.0 437.0,720.0 438.4,726.0 440.0,708.0 441.6,690.0 443.0,672.0 444.2,654.0 446.0,666.0 447.4,658.0 449.0,655.0 450.6,672.0 452.6,680.0 454.6,678.0 456.6,692.0 458.6,712.0 460.6,705.0 462.6,716.0 464.6,712.0 466.2,733.0 468.0,724.0 470.0,714.0 472.0,710.0 474.0,718.0 476.0,710.0 478.0,734.0 480.0,743.0 482.0,720.0 484.0,700.0 486.0,702.0 488.0,678.0 490.0,684.0 492.0,674.0 493.6,665.0 495.4,680.0 497.4,690.0 499.4,696.0 501.4,708.0 503.4,720.0 505.0,741.0 507.0,734.0 508.4,708.0 510.4,692.0 512.4,704.0 515.0,706.0 517.0,692.0 519.0,676.0 520.4,665.0 522.0,682.0 524.0,704.0 526.0,714.0 528.0,700.0 530.0,710.0 532.0,692.0 534.0,682.0 536.0,690.0 538.0,676.0 540.0,670.0 542.0,650.0 544.0,639.0 545.6,654.0 547.4,632.0 549.0,648.0 550.6,676.0 552.0,696.0 554.0,682.0 556.0,690.0 558.0,698.0 560.0,676.0 562.0,674.0 563.0,688.0 565.0,652.0 567.0,664.0 569.0,676.0 571.0,704.0 573.0,692.0 575.0,676.0 577.0,700.0 579.0,712.0 580.6,680.0 582.0,658.0 584.0,632.0 586.0,652.0 587.4,674.0 589.0,648.0 591.0,664.0 593.0,640.0 595.0,628.0 597.0,626.0 599.0,640.0 601.0,624.0 603.0,615.0 605.0,622.0 606.6,648.0 608.0,672.0 610.0,660.0 612.0,676.0 614.0,696.0 616.0,710.0 618.0,692.0 620.0,708.0 622.0,694.0 624.0,704.0 626.0,676.0 628.0,657.0 630.0,668.0 632.0,698.0 634.0,690.0 635.4,706.0 637.4,674.0 639.4,686.0 641.4,698.0 643.4,690.0 645.4,702.0 647.4,714.0 649.4,700.0 651.4,726.0 653.4,716.0 655.4,733.0 657.4,720.0 659.4,702.0 661.4,708.0 663.4,698.0 666.4,694.0 668.4,716.0 670.4,704.0 673.0,688.0 675.0,714.0 677.0,700.0 679.0,720.0 681.0,714.0 683.0,700.0 685.0,705.0 687.0,692.0 689.0,686.0 692.0,677.0 694.0,690.0 696.0,708.0 698.0,704.0 700.0,716.0 702.0,730.0 704.0,726.0 705.4,700.0 707.4,689.0 709.4,706.0 711.4,696.0 713.4,680.0 715.4,658.0 717.4,654.0 719.0,650.0 721.0,670.0 723.0,664.0 725.0,684.0 726.6,694.0 728.0,652.0 729.4,610.0 731.0,622.0 732.6,652.0 734.6,676.0 736.6,672.0 738.6,660.0 740.0,654.0 741.6,676.0 743.6,664.0 745.6,680.0 747.0,704.0 749.0,692.0 750.6,705.0 752.6,684.0 754.6,656.0 756.0,684.0 758.0,694.0 760.0,702.0 762.0,710.0 764.0,720.0 766.0,700.0 768.0,684.0 769.6,656.0 771.0,688.0 773.0,672.0 775.0,680.0 777.0,662.0 779.0,644.0 781.0,648.0 783.0,642.0 785.0,632.0 787.0,619.0 788.6,632.0 790.0,664.0 792.0,650.0 794.0,666.0 796.0,704.0 797.0,704.0 799.0,692.0 801.0,662.0 802.6,648.0 804.0,670.0 806.0,629.0 807.4,654.0 809.0,650.0 810.6,674.0 812.6,654.0 814.6,644.0 816.0,666.0 818.0,676.0 820.6,684.0 823.0,676.0 826.0,680.0 828.0,672.0 830.0,659.0 832.0,678.0 834.0,684.0 835.6,670.0 837.0,690.0 838.6,704.0 840.6,716.0 842.6,704.0 844.6,698.0 846.6,684.0 848.6,679.0 850.0,690.0 851.4,708.0 853.0,732.0 854.6,720.0 856.0,704.0 858.0,716.0 860.0,710.0 862.0,714.0 864.0,700.0 866.0,692.0 868.0,704.0 869.4,714.0 871.4,700.0 872.6,720.0 874.6,690.0 876.0,700.0 878.0,683.0 879.4,704.0 881.0,714.0 883.0,710.0 884.6,720.0 886.6,727.0 888.6,724.0 890.6,708.0 892.0,705.0 893.6,722.0 895.0,704.0 896.4,690.0 898.0,704.0 900.0,692.0 901.6,682.0 903.0,700.0 904.6,688.0 906.0,704.0 907.6,716.0 909.0,704.0 910.6,696.0 912.0,702.0 913.6,694.0 915.0,700.0 916.4,686.0 917.4,684.0" fill="none" stroke="#7e57c2" stroke-width="4.4" stroke-linejoin="round" stroke-linecap="round"/>
<rect x="16" y="677" width="1039" height="4" fill="#ffc3e1" fill-opacity="0.53"/>
<rect x="16" y="632" width="1039" height="4" fill="#ffeb3b"/>
<rect x="16" y="722" width="1039" height="4" fill="#ffeb3b"/>
</g>
<text x="27.0" y="70" font-size="18" fill="#c6c6c6" font-weight="normal" text-anchor="start" textLength="71.4" lengthAdjust="spacingAndGlyphs" stroke="#c6c6c6" stroke-width="0.35">Arbitrum</text>
<text x="119.1" y="70" font-size="18" fill="#c6c6c6" font-weight="normal" text-anchor="start" textLength="20.3" lengthAdjust="spacingAndGlyphs" stroke="#c6c6c6" stroke-width="0.35">US</text>
<text x="143.8" y="70" font-size="18" fill="#c6c6c6" font-weight="normal" text-anchor="start" textLength="47.2" lengthAdjust="spacingAndGlyphs" stroke="#c6c6c6" stroke-width="0.35">Dollar</text>
<text x="210.7" y="70" font-size="18" fill="#c6c6c6" font-weight="normal" text-anchor="start" textLength="18.9" lengthAdjust="spacingAndGlyphs" stroke="#c6c6c6" stroke-width="0.35">1D</text>
<text x="247.1" y="70" font-size="18" fill="#c6c6c6" font-weight="normal" text-anchor="start" textLength="71.9" lengthAdjust="spacingAndGlyphs" stroke="#c6c6c6" stroke-width="0.35">Coinbase</text>
<line x1="106.7" y1="69.9" x2="111.4" y2="57.3" stroke="#c6c6c6" stroke-width="1.6"/>
<rect x="199.8" y="62.8" width="2.8" height="2.8" rx="0.8" fill="#c6c6c6"/>
<rect x="237.2" y="62.8" width="2.8" height="2.8" rx="0.8" fill="#c6c6c6"/>
<text x="330.8" y="70" font-size="18" fill="#c6c6c6" font-weight="normal" text-anchor="start" textLength="12.3" lengthAdjust="spacingAndGlyphs" stroke="#c6c6c6" stroke-width="0.35">O</text>
<text x="343.6" y="70" font-size="18" fill="#089981" font-weight="normal" text-anchor="start" textLength="51.9" lengthAdjust="spacingAndGlyphs" stroke="#089981" stroke-width="0.35">0.1973</text>
<text x="408.4" y="70" font-size="18" fill="#c6c6c6" font-weight="normal" text-anchor="start" textLength="10.8" lengthAdjust="spacingAndGlyphs" stroke="#c6c6c6" stroke-width="0.35">H</text>
<text x="420.1" y="70" font-size="18" fill="#089981" font-weight="normal" text-anchor="start" textLength="50.8" lengthAdjust="spacingAndGlyphs" stroke="#089981" stroke-width="0.35">0.1981</text>
<text x="485.0" y="70" font-size="18" fill="#c6c6c6" font-weight="normal" text-anchor="start" textLength="8.1" lengthAdjust="spacingAndGlyphs" stroke="#c6c6c6" stroke-width="0.35">L</text>
<text x="493.9" y="70" font-size="18" fill="#089981" font-weight="normal" text-anchor="start" textLength="52" lengthAdjust="spacingAndGlyphs" stroke="#089981" stroke-width="0.35">0.1956</text>
<text x="558.1" y="70" font-size="18" fill="#c6c6c6" font-weight="normal" text-anchor="start" textLength="10.1" lengthAdjust="spacingAndGlyphs" stroke="#c6c6c6" stroke-width="0.35">C</text>
<text x="569.3" y="70" font-size="18" fill="#089981" font-weight="normal" text-anchor="start" textLength="51.9" lengthAdjust="spacingAndGlyphs" stroke="#089981" stroke-width="0.35">0.1975</text>
<text x="634" y="70" font-size="18" fill="#089981" font-weight="normal" text-anchor="start" textLength="135" lengthAdjust="spacingAndGlyphs" stroke="#089981" stroke-width="0.35">+0.0006 (+0.30%)</text>
<text x="26.4" y="451" font-size="18" fill="#c6c6c6" font-weight="normal" text-anchor="start" textLength="46.3" lengthAdjust="spacingAndGlyphs" stroke="#c6c6c6" stroke-width="0.35">MACD</text>
<text x="77.6" y="451" font-size="18" fill="#c6c6c6" font-weight="normal" text-anchor="start" textLength="52.1" lengthAdjust="spacingAndGlyphs" stroke="#c6c6c6" stroke-width="0.35">(close,</text>
<text x="137.5" y="451" font-size="18" fill="#c6c6c6" font-weight="normal" text-anchor="start" textLength="22.4" lengthAdjust="spacingAndGlyphs" stroke="#c6c6c6" stroke-width="0.35">12,</text>
<text x="168.8" y="451" font-size="18" fill="#c6c6c6" font-weight="normal" text-anchor="start" textLength="23.5" lengthAdjust="spacingAndGlyphs" stroke="#c6c6c6" stroke-width="0.35">26,</text>
<text x="201.2" y="451" font-size="18" fill="#c6c6c6" font-weight="normal" text-anchor="start" textLength="14.2" lengthAdjust="spacingAndGlyphs" stroke="#c6c6c6" stroke-width="0.35">9)</text>
<text x="226.5" y="451" font-size="18" fill="#26a69a" font-weight="normal" text-anchor="start" textLength="52.6" lengthAdjust="spacingAndGlyphs" stroke="#26a69a" stroke-width="0.35">0.0023</text>
<text x="290.9" y="451" font-size="18" fill="#2962ff" font-weight="normal" text-anchor="start" textLength="61.4" lengthAdjust="spacingAndGlyphs" stroke="#2962ff" stroke-width="0.35">−0.0076</text>
<text x="365.5" y="451" font-size="18" fill="#ff6d00" font-weight="normal" text-anchor="start" textLength="61.5" lengthAdjust="spacingAndGlyphs" stroke="#ff6d00" stroke-width="0.35">−0.0099</text>
<text x="27.1" y="621" font-size="18" fill="#c6c6c6" font-weight="normal" text-anchor="start" textLength="24.0" lengthAdjust="spacingAndGlyphs" stroke="#c6c6c6" stroke-width="0.35">RSI</text>
<text x="57.2" y="621" font-size="18" fill="#c6c6c6" font-weight="normal" text-anchor="start" textLength="28.3" lengthAdjust="spacingAndGlyphs" stroke="#c6c6c6" stroke-width="0.35">(14,</text>
<text x="93.0" y="621" font-size="18" fill="#c6c6c6" font-weight="normal" text-anchor="start" textLength="48.2" lengthAdjust="spacingAndGlyphs" stroke="#c6c6c6" stroke-width="0.35">close)</text>
<text x="152.7" y="621" font-size="18" fill="#7e57c2" font-weight="normal" text-anchor="start" textLength="42.9" lengthAdjust="spacingAndGlyphs" stroke="#7e57c2" stroke-width="0.35">47.56</text>
<g clip-path="url(#cpChart)">
<text x="1069.5" y="53.45" font-size="18" fill="#c6c6c6" font-weight="normal" text-anchor="start" textLength="62" lengthAdjust="spacingAndGlyphs" stroke="#c6c6c6" stroke-width="0.35">60.0000</text>
<text x="1069.5" y="98.15" font-size="18" fill="#c6c6c6" font-weight="normal" text-anchor="start" textLength="62" lengthAdjust="spacingAndGlyphs" stroke="#c6c6c6" stroke-width="0.35">20.0000</text>
<text x="1069.5" y="155.14999999999998" font-size="18" fill="#c6c6c6" font-weight="normal" text-anchor="start" textLength="52.5" lengthAdjust="spacingAndGlyphs" stroke="#c6c6c6" stroke-width="0.35">5.0000</text>
<text x="1069.5" y="221.35" font-size="18" fill="#c6c6c6" font-weight="normal" text-anchor="start" textLength="52.5" lengthAdjust="spacingAndGlyphs" stroke="#c6c6c6" stroke-width="0.35">1.0000</text>
<text x="1069.5" y="344.45" font-size="18" fill="#c6c6c6" font-weight="normal" text-anchor="start" textLength="52.5" lengthAdjust="spacingAndGlyphs" stroke="#c6c6c6" stroke-width="0.35">0.0500</text>
<text x="1069.5" y="409.45" font-size="18" fill="#c6c6c6" font-weight="normal" text-anchor="start" textLength="52.5" lengthAdjust="spacingAndGlyphs" stroke="#c6c6c6" stroke-width="0.35">0.0100</text>
<text x="1069.5" y="448.45" font-size="18" fill="#c6c6c6" font-weight="normal" text-anchor="start" textLength="52.5" lengthAdjust="spacingAndGlyphs" stroke="#c6c6c6" stroke-width="0.35">0.1000</text>
<text x="1069.5" y="618.45" font-size="18" fill="#c6c6c6" font-weight="normal" text-anchor="start" textLength="43.5" lengthAdjust="spacingAndGlyphs" stroke="#c6c6c6" stroke-width="0.35">80.00</text>
<text x="1069.5" y="708.45" font-size="18" fill="#c6c6c6" font-weight="normal" text-anchor="start" textLength="43.5" lengthAdjust="spacingAndGlyphs" stroke="#c6c6c6" stroke-width="0.35">40.00</text>
</g>
<path d="M1056,236.5 Q1056,235 1057.5,235 H1127 Q1130,235 1130,238 V258.8 Q1130,261.8 1127,261.8 H1057.5 Q1056,261.8 1056,260.3 Z" fill="#ffffff"/>
<text x="1069.5" y="254.5" font-size="18" fill="#000" font-weight="normal" text-anchor="start" textLength="52" lengthAdjust="spacingAndGlyphs" stroke="#000" stroke-width="0.35">0.4397</text>
<path d="M1056,269.7 Q1056,268.2 1057.5,268.2 H1143 Q1146,268.2 1146,271.2 V313.0 Q1146,316.0 1143,316.0 H1057.5 Q1056,316.0 1056,314.5 Z" fill="#089981"/>
<text x="1069.5" y="288.2" font-size="18" fill="#fff" font-weight="normal" text-anchor="start" textLength="52.5" lengthAdjust="spacingAndGlyphs" stroke="#fff" stroke-width="0.7">0.1975</text>
<text x="1070" y="308.7" font-size="18" fill="#fff" font-weight="normal" text-anchor="start" textLength="68.6" lengthAdjust="spacingAndGlyphs" stroke="#fff" stroke-width="0.6" opacity="0.72">16:33:15</text>
<path d="M1056,504.3 Q1056,502.8 1057.5,502.8 H1127 Q1130,502.8 1130,505.8 V525.1 Q1130,528.1 1127,528.1 H1057.5 Q1056,528.1 1056,526.6 Z" fill="#26a69a"/>
<text x="1069.5" y="523.3" font-size="18" fill="#fff" font-weight="normal" text-anchor="start" textLength="52.5" lengthAdjust="spacingAndGlyphs" stroke="#fff" stroke-width="0.7">0.0023</text>
<path d="M1056,529.6 Q1056,528.1 1057.5,528.1 H1136.7 Q1139.7,528.1 1139.7,531.1 V551.2 Q1139.7,554.2 1136.7,554.2 H1057.5 Q1056,554.2 1056,552.7 Z" fill="#2962ff"/>
<text x="1069.5" y="548.8" font-size="18" fill="#fff" font-weight="normal" text-anchor="start" textLength="62" lengthAdjust="spacingAndGlyphs" stroke="#fff" stroke-width="0.7">−0.0076</text>
<path d="M1056,555.7 Q1056,554.2 1057.5,554.2 H1136.7 Q1139.7,554.2 1139.7,557.2 V577.8000000000001 Q1139.7,580.8000000000001 1136.7,580.8000000000001 H1057.5 Q1056,580.8000000000001 1056,579.3000000000001 Z" fill="#ff6d00"/>
<text x="1069.5" y="575.2" font-size="18" fill="#fff" font-weight="normal" text-anchor="start" textLength="62" lengthAdjust="spacingAndGlyphs" stroke="#fff" stroke-width="0.7">−0.0099</text>
<path d="M1056,672.5 Q1056,671 1057.5,671 H1118 Q1121,671 1121,674 V694.7 Q1121,697.7 1118,697.7 H1057.5 Q1056,697.7 1056,696.2 Z" fill="#7e57c2"/>
<text x="1069.5" y="691.3" font-size="18" fill="#fff" font-weight="normal" text-anchor="start" textLength="43.5" lengthAdjust="spacingAndGlyphs" stroke="#fff" stroke-width="0.7">47.56</text>
<text x="170.7" y="790" font-size="18" fill="#c6c6c6" font-weight="normal" text-anchor="start" textLength="22.6" lengthAdjust="spacingAndGlyphs" stroke="#c6c6c6" stroke-width="0.35">Jul</text>
<text x="310.0" y="790" font-size="18" fill="#c6c6c6" font-weight="bold" text-anchor="start" textLength="41" lengthAdjust="spacingAndGlyphs">2024</text>
<text x="465.4" y="790" font-size="18" fill="#c6c6c6" font-weight="normal" text-anchor="start" textLength="22.6" lengthAdjust="spacingAndGlyphs" stroke="#c6c6c6" stroke-width="0.35">Jul</text>
<text x="605.0" y="790" font-size="18" fill="#c6c6c6" font-weight="bold" text-anchor="start" textLength="41" lengthAdjust="spacingAndGlyphs">2025</text>
<text x="760.0" y="790" font-size="18" fill="#c6c6c6" font-weight="normal" text-anchor="start" textLength="22.6" lengthAdjust="spacingAndGlyphs" stroke="#c6c6c6" stroke-width="0.35">Jul</text>
<text x="899.3" y="790" font-size="18" fill="#c6c6c6" font-weight="bold" text-anchor="start" textLength="41.4" lengthAdjust="spacingAndGlyphs">2026</text>
<path d="M18.5,837.3 H36.7 V859.6 H27.3 V846.2 H18.5 Z" fill="#d6d6d6"/>
<circle cx="42.9" cy="841.4" r="3.9" fill="#d6d6d6"/>
<path d="M51.1,837.3 H62.7 L53.4,859.6 H43.4 Z" fill="#d6d6d6"/>
<text x="73.4" y="859.6" font-size="31" font-weight="bold" fill="#d6d6d6" textLength="181.3" lengthAdjust="spacingAndGlyphs">TradingView</text>
</svg></body></html>
